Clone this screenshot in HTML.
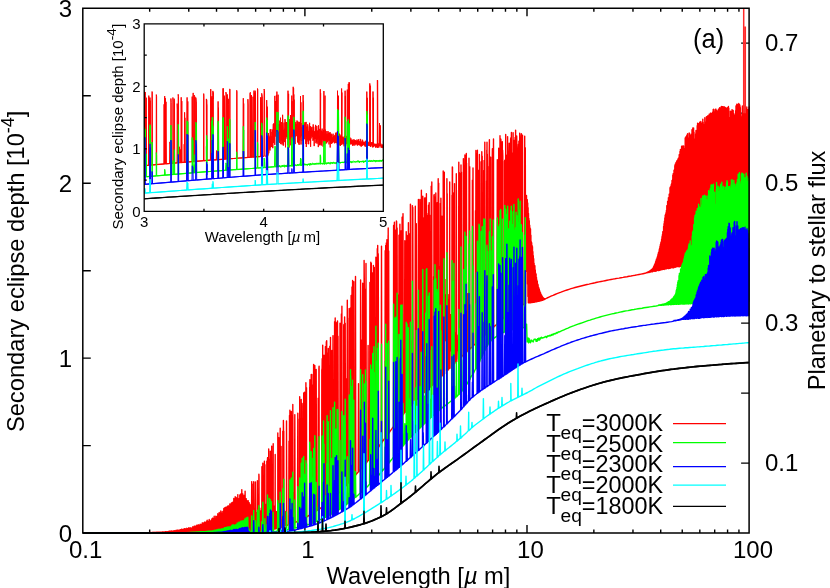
<!DOCTYPE html>
<html><head><meta charset="utf-8"><title>Secondary eclipse depth</title>
<style>html,body{margin:0;padding:0;background:#fff;}body{width:830px;height:588px;overflow:hidden;font-family:"Liberation Sans",sans-serif;}svg{display:block;}</style></head>
<body>
<svg width="830" height="588" viewBox="0 0 830 588" font-family="Liberation Sans, sans-serif" fill="#000" style="will-change:transform">
<rect width="830" height="588" fill="#fff"/>
<defs><clipPath id="cm"><rect x="82.8" y="8.25" width="666.9" height="525.45"/></clipPath><clipPath id="ci"><rect x="144.2" y="23.85" width="239.1" height="187.45"/></clipPath></defs>
<path d="M149.66 533.1v-3.6M149.66 8.25v3.6M188.77 533.1v-3.6M188.77 8.25v3.6M216.52 533.1v-3.6M216.52 8.25v3.6M238.04 533.1v-3.6M238.04 8.25v3.6M255.63 533.1v-3.6M255.63 8.25v3.6M270.50 533.1v-3.6M270.50 8.25v3.6M283.38 533.1v-3.6M283.38 8.25v3.6M294.74 533.1v-3.6M294.74 8.25v3.6M304.90 533.1v-8M304.90 8.25v8M371.76 533.1v-3.6M371.76 8.25v3.6M410.87 533.1v-3.6M410.87 8.25v3.6M438.62 533.1v-3.6M438.62 8.25v3.6M460.14 533.1v-3.6M460.14 8.25v3.6M477.73 533.1v-3.6M477.73 8.25v3.6M492.60 533.1v-3.6M492.60 8.25v3.6M505.48 533.1v-3.6M505.48 8.25v3.6M516.84 533.1v-3.6M516.84 8.25v3.6M527.00 533.1v-8M527.00 8.25v8M593.86 533.1v-3.6M593.86 8.25v3.6M632.97 533.1v-3.6M632.97 8.25v3.6M660.72 533.1v-3.6M660.72 8.25v3.6M682.24 533.1v-3.6M682.24 8.25v3.6M699.83 533.1v-3.6M699.83 8.25v3.6M714.70 533.1v-3.6M714.70 8.25v3.6M727.58 533.1v-3.6M727.58 8.25v3.6M738.94 533.1v-3.6M738.94 8.25v3.6M82.8 445.62h8M82.8 358.15h8M82.8 270.68h8M82.8 183.20h8M82.8 95.72h8M749.1 463.10h-8M749.1 393.10h-8M749.1 323.10h-8M749.1 253.10h-8M749.1 183.10h-8M749.1 113.10h-8M749.1 43.10h-8" fill="none" stroke="#000" stroke-width="1.4" stroke-linecap="butt"/>
<g clip-path="url(#cm)" fill="none" stroke-width="1.4" stroke-linejoin="round">
<path stroke="#ff0000" d="M82.8 533.1L125 533.1L125.5 533.1L126 533.1L126.5 533.1L127 533.1L127.5 533.1L128 533.1L128.5 533.1L129 533.1L129.5 533.1L130 533.1L130.5 533.1L131 533.1L131.5 533.1L132 533.1L132.5 533.1L133 533.1L133.5 533.1L134 533.1L134.5 533.1L135 533.1L135.5 533.1L136 533.1L136.5 533.1L137 533.1L137.5 533.1L138 533.1L138.5 533.1L139 533.1L139.5 533.1L140 533.1L140.5 533.1L141 533.1L141.5 533.1L142 533.1L142.5 533.1L143 533.1L143.5 533.1L144 533.1L144.5 533.1L145 533.1L145.5 533.1L146 533.1L146.5 533.1L147 533.1L147.5 533.1L148 533.1L148.5 533.1L149 533.1L149.2 532.7L149.5 533.1L149.8 532.6L150 533.1L150.2 532.5L150.5 533.1L150.8 532.6L151 533.1L151.2 532.6L151.5 533.1L151.8 532.6L152 533.1L152.2 532.4L152.5 533.1L152.8 532.4L153 533.1L153.2 532.4L153.5 533.1L153.8 532.4L154 533.1L154.2 532.5L154.5 533.1L154.8 532.4L155 533.1L155.2 532.4L155.5 533.1L155.8 532.4L156 533.1L156.2 532.4L156.5 533.1L156.8 532.3L157 533.1L157.2 532.3L157.5 533.1L157.8 532.3L158 533.1L158.2 532.3L158.5 533.1L158.8 532.3L159 533.1L159.2 532.1L159.5 533.1L159.8 532.2L160 533.1L160.2 532.3L160.5 533.1L160.8 532.2L161 533.1L161.2 532.2L161.5 533.1L161.8 532.1L162 533.1L162.2 532L162.5 533.1L162.8 531.9L163 533.1L163.2 532L163.5 533.1L163.8 532.1L164 533.1L164.2 531.9L164.5 533.1L164.8 532.1L165 533.1L165.2 531.8L165.5 533.1L165.8 531.8L166 533.1L166.2 531.8L166.5 533.1L166.8 531.9L167 533.1L167.2 531.8L167.5 533.1L167.8 531.8L168 533.1L168.2 531.5L168.5 533.1L168.8 531.6L169 533.1L169.2 531.3L169.5 533.1L169.8 531.3L170 533.1L170.2 531.2L170.5 533.1L170.8 531.1L171 533.1L171.2 531L171.5 533.1L171.8 531.1L172 533.1L172.2 531.1L172.5 533.1L172.8 531.1L173 533.1L173.2 530.9L173.5 533.1L173.8 531L174 533.1L174.2 531L174.5 533.1L174.8 530.8L175 533.1L175.2 530.5L175.5 533.1L175.8 530.9L176 533.1L176.2 530.9L176.5 533.1L176.8 530.1L177 533.1L177.2 530.2L177.5 533.1L177.8 530.2L178 533.1L178.2 530.4L178.5 533.1L178.8 530.3L179 533.1L179.2 530.2L179.5 533.1L179.8 530.4L180 533.1L180.2 529.8L180.5 533.1L180.8 530.1L181 533.1L181.2 529.4L181.5 533.1L181.8 529.2L182 533.1L182.2 529.5L182.5 533.1L182.8 529.7L183 533.1L183.2 529.2L183.5 533.1L183.8 529.7L184 533.1L184.2 528.9L184.5 533.1L184.8 528.8L185 533.1L185.2 528.6L185.5 533.1L185.8 529.5L186 533.1L186.2 528.9L186.5 533.1L186.8 528.3L187 533.1L187.2 528.7L187.5 533.1L187.8 528.6L188 533.1L188.2 528.6L188.5 533.1L188.8 527.8L189 533.1L189.2 527.9L189.5 533.1L189.8 528.1L190 533.1L190.2 528.4L190.5 533.1L190.8 527.7L191 533.1L191.2 528.1L191.5 533.1L191.8 528.2L192 533.1L192.2 528.1L192.5 533.1L192.8 526.7L193 533.1L193.2 527.1L193.5 533.1L193.8 527.1L194 533.1L194.2 526.3L194.5 533.1L194.8 526.1L195 533.1L195.2 526.2L195.5 533.1L195.8 527.3L196 533.1L196.2 525.9L196.5 533.1L196.8 525.1L197 533.1L197.2 526.3L197.5 533.1L197.8 526.5L198 533.1L198.2 524.7L198.5 533.1L198.8 525.7L199 533.1L199.2 525.1L199.5 533.1L199.8 526L200 533.1L200.2 524.2L200.5 533.1L200.8 524.9L201 533.1L201.2 524.6L201.5 533.1L201.8 524.7L202 533.1L202.2 522.9L202.5 533.1L202.8 522.9L203 533.1L203.2 524.1L203.5 533.1L203.8 523.8L204 533.1L204.2 522.5L204.5 533.1L204.8 521.9L205 533.1L205.2 523.8L205.5 533.1L205.8 524L206 533.1L206.2 522L206.5 533.1L206.8 520.9L207 533.1L207.2 520.2L207.5 533.1L207.8 522.1L208 533.1L208.2 521.6L208.5 533.1L208.8 521L209 533.1L209.2 519.4L209.5 533.1L209.8 520.3L210 533L210.2 521.3L210.5 533L210.8 521.1L211 533L211.2 520.8L211.5 533L211.8 519.1L212 533L212.2 518.5L212.5 533L212.8 518.1L213 533L213.2 518.5L213.5 533L213.8 519.6L214 533L214.2 516.3L214.5 533L214.8 519L215 533L215.2 518.5L215.5 533L215.8 516.2L216 533L216.2 518.9L216.5 533L216.8 516.7L217 533L217.2 516.3L217.5 532.9L217.8 513.7L218 532.9L218.2 517.6L218.5 532.9L218.8 514.8L219 532.9L219.2 512.4L219.5 532.9L219.8 515.2L220 532.9L220.2 512.9L220.5 532.9L220.8 510.9L221 532.9L221.2 511.8L221.5 532.9L221.8 514.6L222 532.9L222.2 513.8L222.5 532.8L222.8 511.4L223 532.8L223.2 514.4L223.5 532.8L223.8 508.5L224 532.8L224.2 511L224.5 532.8L224.8 507.8L225 532.8L225.2 512.4L225.5 532.8L225.8 507.2L226 532.8L226.2 508.9L226.5 532.7L226.8 510.5L227 532.7L227.2 506.5L227.5 532.7L227.8 507.4L228 532.7L228.2 505.8L228.5 532.7L228.8 507.7L229 532.7L229.2 506.8L229.5 532.7L229.8 504L230 532.7L230.2 504.6L230.5 532.6L230.8 506.4L231 532.6L231.2 503.1L231.5 532.6L231.8 502.8L232 532.6L232.2 506.4L232.5 532.6L232.8 502.3L233 532.6L233.2 506.8L233.5 532.5L233.8 498.4L234 532.5L234.2 499.1L234.5 532.5L234.8 500.2L235 532.5L235.2 496.8L235.5 532.5L235.8 503.3L236 532.5L236.2 497.4L236.5 532.4L236.8 500.9L237 532.4L237.2 498.7L237.5 532.4L237.8 494.6L238 532.4L238.2 500.8L238.5 532.4L238.8 499.6L239 532.3L239.2 498.4L239.5 532.3L239.8 494.9L240 532.3L240.2 496.3L240.5 532.3L240.8 493.9L241 532.3L241.2 496.4L241.5 532.2L241.8 489.6L242 532.2L242.2 498.7L242.5 532.2L242.8 494L243 532.2L243.2 498.4L243.5 532.2L243.8 495.9L244 532.1L244.2 495.5L244.5 532.1L244.8 499.9L244.8 532.1L245 532.1L245.1 491.2L245.2 501.1L245.4 532.1L245.5 532.1L245.8 503.8L246 532.1L246.2 498.6L246.5 532L246.8 500.5L247 532L247.2 503.6L247.5 532L247.8 506.6L248 532L248.2 500.6L248.5 531.9L248.8 504.8L249 531.9L249.2 502.8L249.5 531.9L249.8 504.3L250 531.9L250.2 504.7L250.5 531.9L250.8 509.1L250.9 531.8L251 531.8L251.2 508.1L251.2 506.7L251.4 531.8L251.5 531.8L251.5 531.8L251.7 481.6L251.8 506.5L251.9 531.8L252 531.8L252 531.8L252.2 483.9L252.2 509.1L252.5 531.8L252.5 531.8L252.8 508.7L253 531.7L253.2 509.5L253.4 531.7L253.5 531.7L253.7 481.8L253.8 511.5L254 531.7L254 531.7L254.2 509.8L254.5 531.6L254.8 513.9L254.9 531.6L255 531.6L255.1 531.6L255.2 511.9L255.2 511.2L255.4 482L255.5 531.6L255.5 531.6L255.7 531.6L255.8 513.2L256 531.6L256.2 513.5L256.5 531.5L256.8 512.4L257 531.5L257.1 531.5L257.2 514.1L257.4 480.7L257.5 531.5L257.7 531.5L257.8 514.3L258 531.5L258.2 512L258.5 531.4L258.6 531.4L258.7 531.4L258.8 510.8L258.9 474.3L259 531.4L259 475.6L259.2 531.4L259.2 510L259.3 531.4L259.5 531.4L259.8 508.1L260 531.4L260.2 512.5L260.5 531.3L260.8 511.3L261 531.3L261.2 510.8L261.5 531.2L261.6 531.2L261.8 506.1L261.9 466.7L262 531.2L262.2 531.2L262.2 509.9L262.5 531.2L262.5 531.1L262.6 531.1L262.8 507.8L262.8 463.3L262.9 463.3L263 531.1L263.1 531.1L263.2 531.1L263.2 507.9L263.5 531L263.8 508.4L264 531L264.1 530.9L264.2 506.9L264.4 461.3L264.5 530.9L264.6 530.9L264.7 530.9L264.8 504.8L264.9 464.7L265 530.9L265.2 530.9L265.2 508.3L265.5 530.8L265.8 508.3L266 530.7L266.2 504.3L266.5 530.6L266.5 530.6L266.8 507.4L266.8 461.3L267 530.6L267.1 530.6L267.2 530.5L267.2 506L267.3 530.5L267.3 530.5L267.5 530.4L267.5 458.5L267.5 530.5L267.6 492.8L267.6 457.6L267.8 506.8L267.8 457.7L267.8 530.5L267.9 530.5L267.9 530.5L268 530.4L268.1 530.4L268.2 505.9L268.4 530.3L268.5 530.3L268.7 449L268.8 503.1L269 530.3L269 530.2L269 530.1L269.2 504.2L269.3 459.3L269.3 530.1L269.5 530.1L269.6 530.1L269.6 459.7L269.8 507.2L269.9 530.1L270 530L270 529.9L270.2 508.8L270.3 451.1L270.5 529.8L270.5 529.9L270.6 529.9L270.7 529.8L270.8 503.8L270.8 501.7L271 529.8L271 529.7L271 455.2L271.1 529.8L271.2 509.4L271.3 529.7L271.3 452.9L271.3 529.8L271.4 529.6L271.5 529.7L271.6 520.9L271.6 529.7L271.7 446.1L271.8 506.4L271.9 529.7L272 529.6L272 529.6L272.2 505.7L272.5 529.5L272.8 509L272.9 529.3L273 529.3L273.2 443.8L273.2 507.8L273.5 529.3L273.5 529.2L273.8 506L274 529.1L274.2 507.4L274.5 529L274.8 510.2L274.9 528.8L275 528.9L275.2 454.4L275.2 507L275.5 528.8L275.5 528.7L275.8 511.3L276 528.6L276.2 513.2L276.5 528.5L276.8 511.7L277 528.3L277.2 511.5L277.5 528.2L277.5 528.1L277.8 514.6L277.8 433L278 528.1L278.1 528.1L278.2 516L278.5 527.9L278.6 527.8L278.8 513.3L278.9 437.6L279 527.8L279.2 527.8L279.2 514.5L279.5 527.6L279.8 515.5L279.9 527.4L280 527.5L280.2 428.3L280.2 516.2L280.5 527.3L280.5 527.4L280.8 518.5L280.8 527.2L281 527.2L281.1 446.5L281.2 518L281.4 527.2L281.5 527L281.8 520L282 526.9L282.2 520.8L282.5 526.7L282.5 526.6L282.8 521.6L282.8 431.1L283 526.6L283.1 526.5L283.1 526.6L283.2 526.4L283.2 521.9L283.4 420.5L283.5 427.8L283.5 526.3L283.5 526.4L283.7 526.5L283.8 522.7L283.8 526.4L283.8 431.2L284 526.3L284.1 526.3L284.2 523.8L284.5 526.1L284.8 525.1L285 526L285.4 525.7L285.5 525.8L285.7 511.5L286 525.7L286 525.6L286.2 525.5L286.5 525.5L286.5 420.9L286.8 525.5L287 525.3L287.5 525.2L288 525L288.7 524.7L289 441.1L289.2 524.5L289.3 524.7L289.5 415.5L289.6 524.4L289.8 524.5L289.9 410.1L290 524.3L290 524.4L290.2 524.4L290.3 421.7L290.3 524.2L290.3 524.2L290.6 524.3L290.6 491.8L290.6 420.7L290.9 524.2L290.9 524L290.9 524.2L290.9 523.9L291 523.9L291.2 449.3L291.2 421.9L291.3 411.5L291.5 524L291.5 523.9L291.6 523.9L291.8 523.6L291.8 523.6L292 523.7L292.1 415.6L292.1 417.7L292.4 523.6L292.4 523.6L292.5 523.4L292.8 404.4L293.1 523.4L293.3 523.1L293.6 501L293.6 523L293.9 523.1L293.9 492.4L294 522.9L294.2 523L294.5 522.6L294.8 414.6L295.1 522.6L296 522.1L297.5 521.3L297.8 413.3L298 521.3L298.1 521.3L299.1 520.6L299.4 520.5L299.4 419.1L299.4 520.5L299.7 406.6L299.7 520.6L299.7 396.8L300 520.5L300 520.3L300 520.5L300.4 520L300.7 421.4L300.9 519.7L301 520L301.2 399.5L301.5 519.7L301.8 519.3L301.9 519.3L302 519.4L302.1 403.5L302.2 406L302.4 519.3L302.5 519.3L302.9 518.8L303.2 462.2L303.2 518.6L303.4 518.5L303.5 518.8L303.5 518.4L303.5 473.2L303.7 393L303.8 403.4L303.8 518.6L304 518.5L304 518.3L304.1 518.4L304.3 518L304.5 517.9L304.6 392.2L304.8 394.4L304.9 518L305.1 517.9L305.6 517.3L305.9 382.7L306 517.1L306 517.3L306.2 517.3L306.2 517L306.3 505.3L306.5 387.8L306.6 517.1L306.8 517L308 516.1L309.4 515.2L309.5 515.1L309.6 515L309.7 387.3L309.8 388.7L309.9 379.7L310 515.2L310 515L310.1 515.1L310.2 514.7L310.2 515L310.5 442.7L310.8 514.7L310.9 514.3L311.2 374.5L311.5 514.3L311.6 513.8L311.8 513.7L311.9 374.4L312 513.8L312.1 513.5L312.1 388.2L312.2 513.8L312.4 389.2L312.4 513.7L312.6 513.2L312.7 513.5L312.8 513.1L312.9 384.9L313 513L313.1 475.6L313.2 513.2L313.3 512.8L313.3 496.1L313.4 513.1L313.4 512.7L313.6 364.5L313.6 513L313.7 364.7L313.9 512.8L314 512.5L314 512.7L314.1 512.3L314.4 383.3L314.5 512L314.5 512L314.7 512.3L314.8 511.8L314.8 367.6L314.8 365.5L315.1 379.3L315.1 512L315.1 512L315.4 511.8L315.9 511.1L316 511.2L316.2 369.5L316.5 511.1L317.9 509.8L318 509.9L318.2 398.1L318.2 509.6L318.5 509.8L318.5 437.4L318.6 509.3L318.8 509.2L318.8 509.6L318.9 368.8L319.1 366.1L319.2 509.3L319.4 509.2L320 508.6L321.5 507.4L321.7 507.2L321.8 369.8L321.8 507.2L321.9 507L322 368.6L322 507.2L322.1 507.4L322.1 367.4L322.2 358.6L322.3 507.2L322.4 506.7L322.4 507.2L322.5 507L322.7 345.3L322.7 506.5L323 506.7L323 489.7L323.2 506.2L323.3 506.5L323.5 366.6L323.7 505.8L323.8 506.2L324 505.8L324 355.2L324.3 505.8L325.1 504.8L325.4 346.6L325.7 504.8L326 504.2L326 504.4L326.3 341.8L326.4 503.9L326.6 504.2L326.6 503.7L326.7 340.8L326.8 503.6L326.8 503.5L326.9 360.8L327 503.9L327.1 354.3L327.1 352.9L327.2 503.7L327.4 503.6L327.4 503.5L328 502.9L328 502.6L328.3 348.4L328.6 502.6L329.5 501.4L329.8 346.1L330 501.2L330.1 501.4L330.2 500.8L330.2 500.8L330.5 337.4L330.5 341.2L330.8 500.8L330.8 500.8L331.6 499.6L331.7 499.5L331.9 350.5L332 499.5L332 351.7L332.2 499.6L332.3 499.5L332.7 498.7L333 335.6L333.3 498.7L333.7 497.7L334 497.7L334 482.6L334.3 497.7L334.3 497.1L334.6 321.6L334.9 496.6L334.9 497.1L335.1 496.5L335.2 317.9L335.4 374.9L335.5 496.6L335.5 496L335.7 496.5L335.8 322.1L336 495.9L336.1 496L336.3 495.3L336.3 495.3L336.6 335.5L336.6 339.9L336.8 494.8L336.9 495.3L336.9 495.3L337.1 494.6L337.1 322.7L337.2 494.4L337.4 322.8L337.4 494.8L337.5 321L337.7 494.6L337.7 493.9L337.8 494.4L338 493.9L338 336.2L338.3 493.9L339.7 491.9L340 491.9L340 323.1L340.3 491.9L341.1 490.5L341.4 313.9L341.6 490L341.7 490.5L341.9 306.2L342 489.9L342.2 490L343.4 488.1L343.6 487.9L343.7 325.9L343.9 324.4L344 488.1L344 487.8L344.2 487.9L344.3 487.2L344.6 316.9L344.9 487.2L344.9 486.5L345.2 323.2L345.5 486.5L345.5 485.8L345.8 432.3L346 485.6L346.1 485.8L346.2 485.1L346.5 378.7L346.8 485.1L347 484.2L347.3 300.2L347.6 484.2L348 483.5L348.7 482.3L348.9 482.1L349 318.1L349.1 481.9L349.2 308.5L349.3 482.3L349.4 441.6L349.5 482.1L349.7 481.9L350 481.3L350.2 480.8L350.4 480.5L350.5 308.7L350.5 480.4L350.5 480.3L350.7 309.9L350.8 480.8L350.8 480.1L350.8 480.1L350.8 307.4L350.8 386L351 480.5L351.1 427.8L351.1 295.4L351.1 479.7L351.1 480.4L351.1 480.3L351.4 480.1L351.4 480.1L351.4 479.4L351.4 307.9L351.7 305.5L351.7 479L351.7 479.7L351.9 478.9L352 479.1L352 479.4L352 286.9L352.2 436L352.3 479L352.3 478.4L352.5 478.9L352.6 280.4L352.9 478.4L352.9 477.7L353.1 477.4L353.2 477.3L353.2 343.7L353.4 307.9L353.5 320.2L353.5 477L353.5 477.7L353.7 477.4L353.8 477.3L353.8 281.6L354 476.8L354.1 477L355.2 475.1L355.5 276.4L355.8 475.1L356 474.6L358 472.3L358.2 471.8L358.5 383.8L358.8 471.8L360 470.1L360.3 469.4L360.6 280L360.9 469.4L361.5 468.1L361.8 339.9L362 467.9L362.1 468.1L362.2 467.2L362.4 467.1L362.5 314.1L362.7 283.2L362.8 467.2L363 467.1L363.8 465.4L364 465.5L364.1 465.1L364.1 260.5L364.4 290.8L364.4 465.4L364.7 465.1L365.2 463.7L365.5 289.1L365.7 463.1L365.8 463.7L366 463.1L366 263.5L366.3 463.1L367.8 460.6L368 460.7L368.1 345.5L368.4 460.6L369.6 458.2L369.9 282.5L370 458.1L370.2 458.2L370.4 457.2L370.5 457.1L370.6 457L370.7 278.7L370.8 262.3L370.9 456.6L370.9 263.6L371 456.5L371 457.2L371.1 457.1L371.2 354L371.2 457L371.3 263.2L371.5 456.6L371.6 456.5L372 455.6L372.4 454.7L372.4 454.6L372.7 272.6L372.7 274.4L373 454.7L373 454.6L373.1 453.8L373.4 265.4L373.5 453.2L373.6 453.1L373.7 453.8L373.8 362L373.9 268.6L374 453L374 452.5L374.1 453.2L374.2 453.1L374.3 267.5L374.6 452.5L375.6 450.5L375.9 257.3L376 450.3L376.2 450.5L376.2 449.6L376.5 433.5L376.6 449.1L376.8 449.6L376.9 327.2L377 448.6L377.2 449.1L377.3 248.6L377.4 448L377.6 448.6L377.7 245.5L377.9 447.4L378 447.6L378 448L378 447.2L378.2 253.8L378.3 265L378.5 447.4L378.6 447.2L380 445L381.2 442.9L381.5 246.1L381.8 442.9L382 442.2L384 439.5L384.9 437.8L385.2 250.6L385.4 437.2L385.5 437.8L385.7 245.4L386 436.8L386 437.2L386 436.4L386.3 242.9L386.3 435.9L386.6 435.6L386.6 436.4L386.6 244.6L386.8 435.3L386.9 239.8L386.9 435.9L387 435.1L387.1 246.6L387.2 435.6L387.3 335.4L387.4 435.3L387.6 435.1L387.8 434L387.9 433.9L388 434.1L388.1 235.5L388.1 433.6L388.2 228L388.4 434L388.4 329.5L388.4 433.1L388.5 433.9L388.7 433.6L388.7 250.9L389 433.1L390 431.4L392 428.7L393.3 426.6L393.4 426.4L393.5 426.3L393.6 225.5L393.7 239.5L393.8 350L393.9 426.6L394 426.1L394 426.4L394.1 426.3L394.1 425.5L394.4 222.3L394.7 425.5L394.8 424.6L395.1 265.1L395.3 424L395.3 423.9L395.4 424.6L395.5 423.7L395.6 230.1L395.6 423.6L395.6 242.1L395.8 232.3L395.9 424L395.9 243.2L395.9 423.9L396 423.4L396.1 423L396.1 423.7L396.2 422.8L396.2 423.6L396.3 422.7L396.4 220.9L396.5 346.4L396.6 221.5L396.7 423L396.8 422.1L396.8 422.8L396.9 422.7L397.1 228L397.4 422.1L397.4 421.2L397.7 295L398 420.8L398 421.2L398.7 419.6L399 235.1L399.3 419.6L399.5 418.6L399.6 418.4L399.8 243.6L399.9 224.3L400 418.3L400.1 418.6L400.1 417.8L400.2 418.4L400.4 234.4L400.5 417.3L400.7 417.8L400.7 417L400.8 231.3L401 230.9L401.1 417.3L401.3 417L401.8 415.7L402 415.8L402.1 217.1L402.4 415.7L402.7 414.6L403 213.6L403.3 414.6L404 413.4L404.5 412.4L404.8 240.7L405.1 412.4L405.9 410.7L406 411L406.2 231.6L406.5 410.7L406.7 409.8L407 235.4L407.3 409.8L408 408.7L408.1 408.2L408.4 222.7L408.7 408.2L409.2 407L409.5 234L409.8 407L410 406.5L410.1 406.1L410.2 406L410.4 204.3L410.5 405.6L410.5 204.4L410.7 406.1L410.8 373.9L410.8 406L411.1 405.6L411.9 404.1L412 404L412 404.3L412.1 403.9L412.2 340.6L412.3 363.9L412.4 205.6L412.5 403.5L412.5 404.1L412.6 404L412.7 403.9L412.8 207.4L413.1 403.5L414 402.3L415 400.9L415.3 206.2L415.6 400.9L416 400.3L416 399.9L416.3 223.6L416.6 399.9L418 398.3L418.1 397.9L418.4 199.4L418.7 397.9L419 397L419.3 304.8L419.5 396.6L419.6 396.5L419.6 397L419.8 242.2L419.9 199.5L420 396.4L420.1 396.6L420.2 396.5L420.9 395.3L421.1 395.1L421.2 221.3L421.4 190.3L421.5 395.3L421.7 395.1L422 394.5L422.5 393.8L422.8 196.2L422.9 393.4L423.1 393.8L423.2 217.6L423.5 393.4L424 392.7L424.3 392.2L424.3 392.2L424.6 313.7L424.6 197.9L424.9 392.2L424.9 392.2L425.4 391.2L425.7 197.8L426 391.2L426 390.9L426.1 390.5L426.4 193.7L426.4 390.2L426.5 390.2L426.7 390.5L426.7 216.1L426.8 213.5L427 390.2L427.1 390.2L427.4 389.3L427.7 215.8L428 389L428 389.3L428.2 388.6L428.5 205.3L428.8 388.6L428.9 388L429.2 202.8L429.4 387.6L429.5 388L429.7 215.3L430 387.6L430 387.2L430.4 386.6L430.7 246.4L430.9 386.2L431 386.6L431.2 186.3L431.5 386.2L431.5 385.6L431.8 181.9L432 385.4L432.1 385.6L433.3 384L433.6 276.6L433.6 383.7L433.9 384L433.9 383.4L433.9 195.5L434 383.6L434.2 194.4L434.2 383.7L434.5 383.4L434.7 382.6L434.8 382.6L435 198.9L435.1 197.2L435.3 382.6L435.4 382.6L435.5 381.9L435.6 381.8L435.8 193L435.9 206.5L436 381.7L436.1 381.9L436.2 381.8L436.8 380.7L436.8 380.7L436.9 380.6L437.1 302.5L437.1 208.4L437.2 202.8L437.4 380.7L437.4 380.7L437.5 380.6L437.8 379.7L437.9 379.7L438 379.8L438.1 207L438.2 178.8L438.2 379.3L438.4 379.2L438.4 379.7L438.4 379.1L438.5 379.7L438.5 186.8L438.7 203.9L438.7 183.2L438.8 379.3L439 379.2L439 348.5L439 379.1L439.2 378.4L439.3 364.1L439.5 266.8L439.6 322.6L439.8 378.4L439.9 351.4L440.1 377.5L440.2 293.4L440.4 203.5L440.5 336.5L440.6 377L440.7 377.5L440.8 292.2L440.9 198.2L441.1 327L441.2 377L441.4 292.5L441.7 326.3L441.7 375.9L442 269.3L442 216.1L442.3 337.4L442.3 375.9L442.6 285.8L442.9 345.4L442.9 374.7L443.2 272.8L443.2 170.9L443.5 326.6L443.5 374.7L443.6 374L443.8 290.7L443.8 373.8L443.9 373.8L443.9 182.7L444 373.7L444.1 342.3L444.1 199.2L444.2 196.9L444.2 374L444.3 172.1L444.4 278.2L444.4 373.8L444.5 373.8L444.6 373.7L444.7 344.5L445 279.4L445.3 340.8L445.6 294.8L445.9 330.3L446.2 296.1L446.5 330.4L446.6 371.1L446.8 298.5L446.9 370.8L446.9 370.8L446.9 178.7L447.1 334.7L447.2 281.1L447.2 193.8L447.2 371.1L447.4 289.9L447.5 370.8L447.5 370.8L447.7 335.6L448 369.7L448 294.5L448.3 310.1L448.3 348.7L448.6 369.7L448.6 299.4L448.9 348.1L449.2 306.8L449.4 368.3L449.5 347.8L449.7 181.9L449.8 315.6L450 368.3L450.1 339L450.4 314.4L450.7 350.7L451 315.9L451.3 344.6L451.6 316.2L451.7 366L451.9 348.6L452 195.3L452 365.7L452.2 322.8L452.2 365.5L452.2 365.5L452.3 366L452.3 167L452.5 344.3L452.5 169.7L452.5 167.2L452.6 365.7L452.8 325.3L452.8 365.5L452.8 365.5L453.1 349.1L453.4 325.8L453.6 364.1L453.7 342.1L453.9 192.8L454 326.8L454.2 363.5L454.2 364.1L454.3 345.4L454.5 183.6L454.6 332.2L454.8 363.5L454.9 349.8L455.2 333.7L455.5 351.1L455.8 332.8L456 361.7L456.1 351.1L456.1 361.6L456.3 173.7L456.4 334.1L456.4 189.9L456.6 361.7L456.7 347.1L456.7 361.6L457 335L457.3 350.5L457.6 341.5L457.9 350.2L458.2 342.5L458.5 359.3L458.5 351.8L458.5 359.3L458.8 162.2L458.8 342.1L458.8 287.7L458.9 358.9L459.1 359.3L459.1 354.9L459.1 359.3L459.2 172.4L459.2 358.6L459.4 345.5L459.5 358.9L459.5 276.5L459.7 353.6L459.7 358.1L459.8 358.6L460 173.5L460.3 358.1L460.7 357.2L460.9 357L461 164.9L461.2 356.8L461.2 279.2L461.3 357.2L461.5 172.2L461.5 357L461.8 356.8L462 356.2L463.1 354.9L463.3 354.7L463.4 158.6L463.6 174L463.7 354.9L463.9 354.7L464 354.4L464.3 353.8L464.6 231.3L464.6 353.5L464.9 353.3L464.9 353.8L464.9 155L465.2 175.7L465.2 353.5L465.5 353.3L465.8 352.4L466 352.5L466 352.2L466.1 165.8L466.2 352L466.3 153.4L466.4 352.4L466.5 163.1L466.6 352.2L466.8 352L467.3 351L467.6 293.8L467.9 351L468 350.6L468.7 349.7L468.7 349.7L468.9 349.5L469 164.2L469 158.3L469.2 349.3L469.2 169.7L469.3 349.7L469.3 349.1L469.3 349.7L469.4 349L469.5 169.9L469.5 349.5L469.6 197.5L469.7 166.7L469.8 349.3L469.9 349.1L470 348.8L470 349L472 346.9L472.1 346.5L472.4 180.3L472.7 346L472.7 346.5L473 168L473.3 346L474 345.1L475.2 343.7L475.5 210.7L475.6 343.3L475.8 343.7L475.9 150.5L476 343L476 343.2L476.1 342.8L476.2 343.3L476.3 162.2L476.4 159L476.6 342.4L476.6 343L476.7 342.3L476.7 342.8L476.9 153.4L476.9 342.1L477 158.6L477.1 342L477.2 342.4L477.2 313.3L477.3 342.3L477.3 341.7L477.4 150.3L477.5 342.1L477.6 176.3L477.7 342L477.9 341.7L478 341.1L478 341.4L478.3 170.7L478.6 341.1L478.7 340.4L479 170L479.1 340L479.3 340.4L479.4 154.4L479.7 340L480 339.5L480.8 338.5L481.1 161.7L481.4 338.5L481.5 337.8L481.8 151.7L481.9 337.5L482 337.7L482.1 337.8L482.2 156.2L482.5 337.5L483.4 336.1L483.5 336L483.7 170.5L483.8 335.7L483.8 335.7L483.8 170.8L484 335.8L484 336.1L484.1 167.7L484.1 160.5L484.1 336L484.4 335.7L484.4 335.7L484.5 335.1L484.8 142.1L485.1 335.1L486 334L486.3 333.4L486.5 333.2L486.6 181L486.7 333.1L486.8 333L486.8 150.2L486.9 333.4L487 142.3L487 332.8L487.1 332.7L487.1 160.6L487.1 333.2L487.3 333.1L487.3 154.3L487.3 332.5L487.4 185.2L487.4 333L487.6 332.8L487.6 166.5L487.7 332.7L487.9 332.5L488 332.1L488.8 331.1L489.1 330.9L489.1 165.4L489.4 139.7L489.4 331.1L489.7 330.9L489.8 330.2L489.9 330.1L490 330.3L490.1 157.2L490.2 163.5L490.3 329.7L490.4 330.2L490.4 329.7L490.5 330.1L490.6 164.8L490.7 157.1L490.9 329.7L491 329.7L492 328.2L492 328.5L492.1 328.1L492.2 328.1L492.3 155.7L492.4 148.8L492.5 266L492.6 328.2L492.7 328.1L492.8 328.1L493 327.3L493.1 327.3L493.2 327.1L493.3 149.1L493.4 160.1L493.5 139L493.6 327.3L493.7 327.3L493.8 327.1L494 326.7L496 324.9L497 323.7L497.3 159.7L497.4 323.3L497.6 323.7L497.7 307.8L498 323L498 323.3L498.4 322.4L498.7 148.2L499 322.4L499.1 321.7L499.4 160.7L499.7 321.2L499.7 321.7L500 135.7L500 321.2L500.3 321.2L500.3 320.6L500.3 320.6L500.4 320.5L500.6 320.4L500.6 145.8L500.6 138.7L500.6 320.3L500.6 320.3L500.7 163.3L500.8 320.1L500.9 144.8L500.9 320.6L500.9 320.6L500.9 152.2L500.9 139.5L500.9 320L501 320.5L501.1 208.9L501.2 320.4L501.2 320.3L501.2 320.3L501.2 241.3L501.4 320.1L501.5 320L502 319.1L502 319.3L502.3 141.6L502.3 318.7L502.5 318.6L502.6 319.1L502.6 150.3L502.8 155.7L502.9 318.7L503.1 318.6L504 317.5L504.2 317L504.5 316.8L504.5 161.4L504.8 160.3L504.8 317L505.1 316.8L505.4 316L505.7 134.5L505.7 315.7L506 316L506 315.8L506 154.6L506.3 315.7L506.6 315L506.9 155.4L507.2 315L507.3 314.5L507.6 136.6L507.9 314.5L508 314.1L508.7 313.4L508.9 313.2L509 154L509.2 143.1L509.2 313L509.3 313.4L509.4 312.9L509.5 313.2L509.5 154.4L509.7 312.7L509.7 158L509.8 313L510 145.4L510 312.7L510 312.9L510.3 312.3L510.3 312.7L510.4 312.2L510.5 312.1L510.6 138.8L510.6 312.1L510.6 312L510.6 312L510.7 161.5L510.8 151.3L510.9 312.3L510.9 249.4L510.9 137.6L510.9 152.2L511 312.2L511 311.7L511.1 311.7L511.1 312.1L511.2 312.1L511.2 312L511.2 312L511.3 311.6L511.3 150.9L511.4 132.4L511.6 274L511.6 311.7L511.7 311.7L511.9 311.6L512 311.3L512.1 311.1L512.3 310.9L512.4 153L512.5 310.7L512.6 175.4L512.7 311.1L512.8 310.6L512.8 155.1L512.9 310.5L512.9 310.9L513.1 132.6L513.1 310.7L513.2 144.2L513.4 310.6L513.5 310.5L513.6 310L513.7 310L513.9 144.8L514 310L514 144.2L514.2 310L514.2 309.6L514.2 309.6L514.3 310L514.5 141.1L514.5 140.1L514.8 309.2L514.8 309.6L514.8 309.6L515.1 137.4L515.3 309L515.4 309.2L515.6 130.1L515.8 308.6L515.9 309L516 308.7L516.1 148.8L516.2 308.4L516.4 308.2L516.4 308.6L516.5 308.2L516.5 151.1L516.7 136L516.8 141.7L516.8 308.4L517 308.2L517.1 308.2L517.9 307.4L518 307.5L518.1 307.2L518.2 147.9L518.4 144.2L518.5 307.4L518.6 306.9L518.7 307.2L518.9 141.3L519 306.7L519.2 306.9L519.3 152.9L519.4 306.5L519.6 306.4L519.6 306.7L519.7 133.1L519.8 306.3L519.9 134.7L520 306.5L520 306.3L520.1 136.7L520.2 306.4L520.4 306.3L521.1 305.5L521.2 305.5L521.4 133.8L521.5 147.5L521.7 305.5L521.8 305.5L522 305.2L522.1 305L522.2 304.9L522.4 141L522.5 135.1L522.7 305L522.8 304.9L524 304.2L524.4 303.9L524.7 136.1L525 303.9L525 303.6L525.3 147.8L525.6 303.6L525.6 303.5L525.9 234.5L526.1 195.6L526.3 246.9L526.5 195.4L526.7 259.2L526.9 200.3L527.1 271.6L527.3 199.7L527.5 284L527.7 203L527.9 296.4L528.1 207.8L528.3 302.8L528.5 213.5L528.7 302.8L528.9 218.4L529.1 302.8L529.3 220.7L529.5 302.8L529.7 225.3L529.9 302.7L530.1 228L530.3 302.7L530.5 228.9L530.7 302.7L530.9 235.2L531.1 302.6L531.3 241.7L531.5 302.6L531.7 242.7L531.9 302.5L532.1 245.5L532.3 302.5L532.5 246.8L532.7 302.4L532.9 251.6L533.1 302.4L533.3 255.6L533.5 302.3L533.7 258.7L533.9 302.2L534.1 263.3L534.3 302.2L534.5 265.9L534.7 302.1L534.9 265.7L535.1 302L535.3 269.9L535.5 301.9L535.7 273.1L535.9 301.9L536.1 274.1L536.3 301.8L536.5 277.4L536.7 301.7L536.9 280L537.1 301.6L537.3 281.2L537.5 301.5L537.7 284L537.9 301.4L538.1 284.8L538.3 301.3L538.5 287.1L538.7 301.2L538.9 287.9L539.1 301.2L539.3 289.2L539.5 301.1L539.7 290.8L539.9 301L540.1 291.9L540.3 300.9L540.5 292.6L540.7 300.8L540.9 294L541.1 300.7L541.3 294.7L541.5 300.5L541.7 295.2L541.9 300.4L542.1 296.3L542.3 300.3L542.5 296.8L542.7 300.2L542.9 297.4L543.1 300L543.3 297.7L543.5 299.9L543.7 298.3L543.9 299.7L544.1 298.5L544.3 299.5L544.5 298.7L544.7 299.3L544.9 298.7L545 299.1L547 298L549 297.1L551 296.2L553 295.4L555 294.5L557 293.7L559 292.9L561 292.2L563 291.4L565 290.7L567 290L569 289.3L571 288.7L573 288.1L575 287.5L577 287L579 286.5L581 286L583 285.5L585 285L587 284.5L589 284.1L591 283.6L593 283.2L595 282.8L597 282.3L599 281.9L601 281.5L603 281.1L605 280.7L607 280.3L609 279.9L611 279.5L613 279.1L615 278.8L617 278.4L619 278.1L621 277.7L623 277.4L625 277L627 276.7L629 276.3L631 276L633 275.6L635 275.3L637 274.9L639 274.5L641 274.1L643 273.7L645 273.3L647 272.5L647.2 272.3L647.4 272.7L647.6 272.1L647.8 272.6L648 271.9L648.2 272.3L648.4 271.7L648.6 272.3L648.8 271.5L649 272.5L649.2 271.3L649.4 272.2L649.6 271L649.8 271.9L650 270.8L650.2 272L650.4 270.4L650.6 271.7L650.8 270.2L651 272L651.2 269.8L651.4 271.4L651.6 269.6L651.8 271.5L652 269.2L652.2 271.7L652.4 268.8L652.6 271.8L652.8 268.5L653 271.2L653.2 267.6L653.4 271.3L653.6 266.8L653.8 270.9L654 266L654.2 271.1L654.4 265L654.6 271.2L654.8 264.1L655 271.3L655.2 263.2L655.4 271.2L655.6 261.7L655.8 270.5L656 260.7L656.2 270.5L656.4 259.1L656.6 271L656.8 258.7L657 270.3L657.2 257.1L657.4 270.4L657.6 255.9L657.8 270.3L658 254.2L658.2 270.5L658.4 252.7L658.6 270.1L658.8 252L659 270.6L659.2 249.7L659.4 270.2L659.6 248.1L659.8 270.3L660 246.3L660.2 269.9L660.4 244.5L660.6 270.1L660.8 242.6L661 269.6L661.2 241.7L661.4 269.8L661.6 239.1L661.8 269.5L662 236.6L662.2 269.6L662.4 234.8L662.6 269.6L662.8 231.8L663 269.2L663.2 231.6L663.4 269.1L663.6 226.5L663.8 269.3L664 223.8L664.2 269.5L664.4 221.1L664.6 269L664.8 217.9L665 268.7L665.2 215.1L665.4 268.6L665.6 214.2L665.8 269.1L666 212.7L666.2 268.9L666.4 210.4L666.6 268.6L666.8 205.8L667 268.6L667.2 207.6L667.4 268.4L667.6 201.5L667.8 268.1L668 204.6L668.2 268.6L668.4 197.7L668.6 268L668.8 197.4L669 268.5L669.2 194.1L669.4 268L669.6 194.6L669.8 268.4L670 187.8L670.2 268.2L670.4 186.9L670.6 268L670.8 188.6L671 267.9L671.2 184.8L671.4 267.6L671.6 183.6L671.8 267.5L672 180.5L672.2 267.6L672.4 184.2L672.6 267.8L672.8 175.1L673 267.7L673.2 173.6L673.4 267.5L673.6 180L673.8 267.7L674 170.1L674.2 267.4L674.4 171.4L674.6 267.1L674.8 165.6L675 266.8L675.2 164.3L675.4 267.2L675.6 165.8L675.8 267.1L676 162.4L676.2 266.7L676.4 163L676.6 266.7L676.8 161L677 266.6L677.2 160.5L677.4 266.6L677.6 164.1L677.8 266.5L678 159L678.2 266.6L678.4 158.3L678.6 266.3L678.8 167.1L679 266.7L679.2 154.6L679.4 266.7L679.6 155.6L679.8 266.4L680 151.4L680.2 266.3L680.4 149.4L680.6 266.3L680.8 155.1L681 265.9L681.2 151.6L681.4 265.9L681.6 146.3L681.8 266.4L682 147.2L682.2 265.9L682.4 146.8L682.6 265.7L682.8 145.9L683 265.9L683.2 151.7L683.4 266.1L683.6 145.9L683.8 265.7L684 153.8L684.2 265.6L684.4 149.1L684.6 265.7L684.8 150.7L685 265.5L685.2 138L685.4 265.6L685.6 138.4L685.8 265.7L686 136.8L686.2 265.5L686.4 142.4L686.6 265.8L686.8 135.2L687 265.6L687.2 135.2L687.4 265.2L687.6 133.6L687.8 265.6L688 138L688.2 265.5L688.4 145.5L688.6 265.4L688.8 143.3L689 265.4L689.2 133L689.4 265.2L689.6 133.4L689.8 264.8L690 138.1L690.2 265.3L690.4 136.1L690.6 264.9L690.8 137.3L691 265.2L691.2 134.4L691.4 265.1L691.6 137.3L691.8 264.9L692 129.7L692.2 265.1L692.4 135.2L692.6 264.4L692.8 128L693 264.6L693.2 139.4L693.4 264.5L693.6 127.9L693.8 264.4L694 132.2L694.2 264.6L694.4 139L694.6 264.7L694.8 140L695 264.4L695.2 140.5L695.4 264.4L695.6 134L695.8 264.6L696 130.4L696.2 264.3L696.4 130.8L696.6 264.5L696.8 135.9L697 264.1L697.2 125.7L697.4 264.3L697.6 123.3L697.8 263.8L698 133.5L698.2 263.8L698.4 123.8L698.6 263.8L698.8 124.5L699 263.7L699.2 131.6L699.4 263.6L699.6 122.2L699.8 264.2L700 128.2L700.2 264L700.4 133.1L700.6 263.6L700.8 121.4L701 263.5L701.2 123.5L701.4 263.7L701.6 124.5L701.8 263.3L702 124.2L702.2 263.4L702.4 122.4L702.6 263.6L702.8 119.1L703 263.4L703.2 122.4L703.4 263.2L703.6 124.6L703.8 263.4L704 130.7L704.2 263.2L704.4 129.4L704.6 263.2L704.8 117.8L705 263.4L705.2 123.1L705.4 262.9L705.6 123.8L705.8 263.1L706 121.9L706.2 263.3L706.4 116.7L706.6 263.4L706.8 123.8L707 263L707.2 123.2L707.4 262.8L707.6 116L707.8 263.1L708 115.6L708.2 262.7L708.4 119.2L708.6 263.1L708.8 117.1L709 262.7L709.2 114.1L709.4 262.8L709.6 122.9L709.8 262.5L710 117.8L710.2 262.7L710.4 113.2L710.6 263L710.8 113.1L711 262.9L711.2 122.3L711.4 262.9L711.6 120.9L711.8 262.6L712 113.2L712.2 262.7L712.4 114.9L712.6 262.7L712.8 112L713 262.3L713.2 109.5L713.4 262.4L713.6 109.3L713.8 262.5L714 111.6L714.2 262.6L714.4 118.4L714.6 262.2L714.8 119.3L715 262.1L715.2 109.6L715.4 261.8L715.6 109.3L715.8 262.4L716 109.2L716.2 262.2L716.4 119.6L716.6 261.9L716.8 110.9L717 262L717.2 111L717.4 261.9L717.6 111.5L717.8 261.9L718 113.1L718.2 262L718.4 109.2L718.6 262.1L718.8 109.2L719 261.7L719.2 116.7L719.4 261.7L719.6 107.6L719.8 262L720 117.3L720.2 261.7L720.4 114.9L720.6 261.6L720.8 107.8L721 261.5L721.2 106.6L721.4 261.9L721.6 106.5L721.8 261.6L722 106.9L722.2 261.3L722.4 106.7L722.6 261.7L722.8 106.7L723 261.5L723.2 113.5L723.4 261.3L723.6 109.4L723.8 261.2L724 106.8L724.2 261.2L724.4 113L724.6 261.6L724.8 107.3L725 261.6L725.2 107.4L725.4 260.9L725.6 110.3L725.8 261.4L726 108.1L726.2 261.3L726.4 108.8L726.6 261.2L726.8 108.6L727 261.3L727.2 107.8L727.4 261.1L727.6 110.2L727.8 261L728 118.3L728.2 260.9L728.4 106.5L728.6 261.3L728.8 108.1L729 261L729.2 119.9L729.4 261L729.6 117.9L729.8 260.6L730 117.5L730.2 260.9L730.4 111.1L730.6 260.6L730.8 122.6L731 260.9L731.2 111.7L731.4 260.7L731.6 111.4L731.8 261L732 109.6L732.2 260.8L732.4 113.3L732.6 260.4L732.8 110.5L733 260.6L733.2 110.5L733.4 260.5L733.6 120.8L733.8 260.4L734 113.9L734.2 260.4L734.4 118.5L734.6 260.5L734.8 115.9L735 260.6L735.2 118.8L735.4 260.4L735.6 110.8L735.8 260.4L736 105.9L736.2 260.4L736.4 105.4L736.6 260.2L736.8 104.1L737 260.5L737.2 108.2L737.4 260.2L737.6 104.4L737.8 260.7L738 114.4L738.2 260.7L738.4 104.2L738.6 260.2L738.8 103.5L739 260.6L739.2 109.5L739.4 260.2L739.6 104.6L739.8 260.5L740 105.7L740.2 260.5L740.4 107.6L740.6 260.1L740.8 118.4L741 260.3L741.2 117L741.4 260.5L741.6 116.7L741.8 260.5L742 114.4L742.2 260L742.4 106L742.6 260.3L742.8 120.1L743 260.1L743.2 113.4L743.4 260.3L743.6 109.3L743.8 260L744 105.6L744.2 260L744.4 112.1L744.6 260.1L744.8 118.9L745 259.8L745.2 115.6L745.4 260.2L745.6 111.4L745.8 259.9L746 112.7L746.2 259.6L746.4 108.1L746.6 260.1L746.8 106.9L747 260.3L747.2 110L747.4 260.2L747.6 109.6L747.8 260.1L748 118.7L748.2 259.6L748.4 116.1L748.6 260.2L748.8 109.1L749 259.8L749.2 107L749.1 260.2"/>
<path stroke="#00ff00" d="M82.8 533.1L180 533.1L180.5 533.1L181 533.1L181.5 533.1L182 533.1L182.5 533.1L183 533.1L183.5 533.1L184 533.1L184.5 533.1L185 533.1L185.5 533.1L186 533.1L186.5 533.1L187 533.1L187.5 533.1L187.8 532.6L188 533.1L188.2 532.6L188.5 533.1L188.8 532.5L189 533.1L189.2 532.6L189.5 533.1L189.8 532.5L190 533.1L190.2 532.5L190.5 533.1L190.8 532.4L191 533.1L191.2 532.5L191.5 533.1L191.8 532.3L192 533.1L192.2 532.3L192.5 533.1L192.8 532.3L193 533.1L193.2 532.2L193.5 533.1L193.8 532.2L194 533.1L194.2 532.3L194.5 533.1L194.8 532.2L195 533.1L195.2 532.1L195.5 533.1L195.8 532.2L196 533.1L196.2 532L196.5 533.1L196.8 532.1L197 533.1L197.2 531.9L197.5 533.1L197.8 532.1L198 533.1L198.2 532.1L198.5 533.1L198.8 532L199 533.1L199.2 531.9L199.5 533.1L199.8 532L200 533.1L200.2 531.9L200.5 533.1L200.8 531.8L201 533.1L201.2 531.7L201.5 533.1L201.8 531.6L202 533.1L202.2 531.6L202.5 533.1L202.8 531.6L203 533.1L203.2 531.7L203.5 533.1L203.8 531.7L204 533.1L204.2 531.7L204.5 533.1L204.8 531.7L205 533.1L205.2 531.4L205.5 533.1L205.8 531.6L206 533.1L206.2 531.4L206.5 533.1L206.8 531.5L207 533.1L207.2 531.3L207.5 533.1L207.8 531.4L208 533.1L208.2 531.2L208.5 533.1L208.8 531.2L209 533.1L209.2 531.3L209.5 533.1L209.8 531.1L210 533.1L210.2 531.3L210.5 533.1L210.8 531.3L211 533.1L211.2 531.3L211.5 533.1L211.8 531.2L212 533.1L212.2 530.9L212.5 533.1L212.8 531L213 533.1L213.2 531.2L213.5 533.1L213.8 530.9L214 533.1L214.2 530.3L214.5 533.1L214.8 530.6L215 533.1L215.2 530.3L215.5 533.1L215.8 530.5L216 533.1L216.2 530.4L216.5 533.1L216.8 529.8L217 533.1L217.2 530.4L217.5 533.1L217.8 529.7L218 533.1L218.2 529.3L218.5 533.1L218.8 529.6L219 533.1L219.2 529.8L219.5 533.1L219.8 529.2L220 533.1L220.2 529.8L220.5 533.1L220.8 529.6L221 533.1L221.2 529L221.5 533.1L221.8 529.3L222 533.1L222.2 528.7L222.5 533.1L222.8 529.3L223 533.1L223.2 529L223.5 533.1L223.8 529L224 533.1L224.2 528L224.5 533.1L224.8 527.8L225 533.1L225.2 527.8L225.5 533.1L225.8 527.6L226 533.1L226.2 527.4L226.5 533.1L226.8 528.4L227 533.1L227.2 527L227.5 533.1L227.8 528.2L228 533.1L228.2 527.3L228.5 533.1L228.8 526.9L229 533L229.2 526.9L229.5 533L229.8 526.9L230 533L230.2 527.5L230.5 533L230.8 527.2L231 533L231.2 526.2L231.5 533L231.8 525.5L232 533L232.2 525.1L232.5 533L232.8 525L233 533L233.2 524.7L233.5 533L233.8 525.8L234 533L234.2 526.1L234.5 533L234.8 525.2L235 533L235.2 524.8L235.5 532.9L235.8 525.2L236 532.9L236.2 525L236.5 532.9L236.8 524.5L237 532.9L237.2 522.9L237.5 532.9L237.8 523.6L238 532.9L238.2 524.3L238.5 532.9L238.8 522.2L239 532.9L239.2 523.5L239.5 532.9L239.8 523L240 532.8L240.2 521.8L240.5 532.8L240.8 521.1L241 532.8L241.2 522.9L241.5 532.8L241.8 522.9L242 532.8L242.2 520.6L242.5 532.8L242.8 522.5L243 532.8L243.2 521.1L243.5 532.8L243.8 520.8L244 532.7L244.2 520.4L244.5 532.7L244.8 518.9L245 532.7L245.2 519.2L245.5 532.7L245.8 520.8L246 532.7L246.2 517.7L246.5 532.7L246.8 518.3L247 532.7L247.2 518.5L247.5 532.6L247.8 517.2L248 532.6L248.2 532.6L248.2 527.5L250.2 532.5L251.4 532.5L251.7 516L251.9 532.5L252 532.5L252.2 532.5L252.2 530.3L252.5 532.5L253.4 532.4L253.7 510.5L254 532.4L254.2 532.4L255.1 532.4L255.4 520.8L255.7 532.4L256.2 532.3L257.1 532.3L257.4 510.3L257.7 532.3L258.2 532.2L258.6 532.2L258.7 532.2L258.9 505.6L259 508.1L259.2 532.2L259.3 532.2L260.2 532.2L261.6 532.1L261.9 521.6L262.2 532.1L262.2 532.1L262.5 532L262.6 532L262.8 504.6L262.9 502.2L263.1 532L263.2 532L264.1 532L264.2 532L264.4 525.3L264.6 531.9L264.7 532L264.9 518.8L265.2 531.9L266.2 531.9L266.5 531.9L266.8 524.7L267.1 531.9L267.2 531.8L267.3 531.8L267.5 531.8L267.5 494.9L267.6 500L267.8 509.9L267.8 531.8L267.9 531.8L268.1 531.8L268.2 531.8L268.4 531.8L268.7 522.6L269 531.8L269 531.7L269.3 498.5L269.3 531.7L269.6 531.7L269.6 499.6L269.9 531.7L270 531.7L270.2 531.7L270.3 499.4L270.6 531.7L270.7 531.6L271 531.6L271 509.6L271.3 501.6L271.3 531.6L271.4 531.6L271.6 531.6L271.7 527.8L272 531.6L272.2 531.6L272.9 531.5L273.2 512.1L273.5 531.5L274.2 531.4L276.2 531.2L277.5 531L277.8 500.4L278.1 531L278.2 531L278.6 530.9L278.9 504L279.2 530.9L279.9 530.7L280.2 530.7L280.2 492.3L280.5 530.7L282.2 530.4L282.5 530.3L282.8 488.7L283.1 530.3L283.1 530.3L283.2 530.3L283.4 502.9L283.5 492.6L283.5 530.2L283.7 530.3L283.8 530.3L283.8 479.2L284.1 530.2L284.2 530.1L286.2 529.8L286.2 529.7L286.5 512L286.8 529.7L288.2 529.4L288.7 529.3L289 524.4L289.2 529.2L289.3 529.3L289.5 501.2L289.6 529.1L289.8 529.2L289.9 479.9L290 529L290.2 529.1L290.2 529.1L290.3 496.1L290.3 529L290.6 529L290.6 482.7L290.9 529L290.9 528.9L291 528.8L291.2 504.2L291.3 478L291.5 528.9L291.6 528.8L291.8 528.7L291.8 528.7L292.1 485.9L292.1 513.7L292.2 528.7L292.4 528.7L292.4 528.7L292.5 528.5L292.8 472.3L293.1 528.5L294.2 528.2L294.5 528.1L294.8 499.9L295.1 528.1L296.2 527.8L297.5 527.5L297.8 486.8L298.1 527.5L298.2 527.4L299.1 527.1L299.4 527.1L299.4 515.4L299.4 527L299.7 477.9L299.7 527.1L299.7 509.7L300 527.1L300 527L300.2 526.9L300.4 526.8L300.7 515.7L300.9 526.7L301 526.8L301.2 463.3L301.5 526.7L301.8 526.5L301.9 526.4L302.1 463.1L302.2 458.2L302.2 526.4L302.4 526.5L302.5 526.4L303.4 526L303.5 526L303.7 456.5L303.8 512.2L304 526L304.1 526L304.2 525.9L304.3 525.8L304.5 525.7L304.6 474.5L304.8 481.4L304.9 525.8L305.1 525.7L305.6 525.4L305.9 460.7L306.2 525.4L306.2 525.2L306.2 525.3L306.5 463.7L306.8 525.2L308.2 524.6L309.4 524.1L309.5 524.1L309.6 524L309.7 442.3L309.8 447.7L309.9 497.9L310 524.1L310.1 524.1L310.2 524L310.2 523.9L310.9 523.6L311.2 451.6L311.5 523.6L311.6 523.3L311.8 523.2L311.9 482.8L312.1 523.1L312.1 478.5L312.2 523.2L312.2 523.3L312.4 483.3L312.4 523.2L312.6 522.9L312.7 523.1L312.9 458.1L313.2 522.9L313.3 522.6L313.4 522.6L313.6 456.2L313.7 448.5L313.9 522.6L314 522.6L314.1 522.3L314.2 522.4L314.4 486.9L314.5 522.1L314.5 522.1L314.7 522.3L314.8 522L314.8 442.1L314.8 435.8L315.1 501.9L315.1 522.1L315.1 522.1L315.4 522L315.9 521.6L316.2 482.5L316.2 521.5L316.5 521.6L317.9 520.7L318.2 520.7L318.2 506.9L318.5 520.7L318.6 520.3L318.8 520.3L318.9 455.8L319.1 436.7L319.2 520.3L319.4 520.3L320.2 519.7L321.5 519L321.7 518.9L321.8 450.6L321.8 518.9L321.9 518.8L322 504L322.1 519L322.1 435.9L322.2 518.8L322.2 474.2L322.3 518.9L322.4 518.6L322.4 518.9L322.5 518.8L322.7 463.7L323 518.6L323.2 518.2L323.5 421L323.7 517.9L323.8 518.2L324 444.3L324.2 517.8L324.3 517.9L325.1 517.2L325.4 495.9L325.7 517.2L326 516.8L326.2 516.8L326.3 484.3L326.4 516.6L326.6 516.8L326.6 516.5L326.7 463.5L326.8 516.4L326.8 516.3L326.9 470.4L327 516.6L327.1 474.8L327.1 415.6L327.2 516.5L327.4 516.4L327.4 516.3L328 515.7L328.2 515.8L328.3 421.7L328.6 515.7L329.5 514.9L329.8 486.4L330.1 514.9L330.2 514.7L330.2 514.5L330.2 514.5L330.5 410.7L330.5 429.4L330.8 514.5L330.8 514.5L331.6 513.8L331.7 513.7L331.9 458.5L332 496.9L332.2 513.8L332.2 513.6L332.3 513.7L332.7 513.2L333 407.6L333.3 513.2L334.2 512.5L334.3 512.3L334.6 402.2L334.9 512L334.9 512.3L335.1 511.9L335.2 428.9L335.4 504.5L335.5 512L335.5 511.6L335.7 511.9L335.8 430.8L336.1 511.6L336.2 511.4L336.3 511.2L336.3 511.2L336.6 428.9L336.6 487.3L336.8 510.9L336.9 511.2L336.9 511.2L337.1 510.7L337.1 409.5L337.2 510.6L337.4 454.8L337.4 510.9L337.5 461.1L337.7 510.7L337.7 510.3L337.8 510.6L338 409.7L338.2 510.2L338.3 510.3L339.7 509.1L340 440.4L340.2 509L340.3 509.1L341.1 508.2L341.4 483.9L341.6 507.8L341.7 508.2L341.9 411.4L342.2 507.6L342.2 507.8L343.4 506.6L343.6 506.4L343.7 415.7L343.9 473.5L344 506.6L344.2 506.2L344.2 506.4L344.3 506L344.6 426.7L344.9 506L344.9 505.5L345.2 399.1L345.5 505.5L346.2 504.8L347 503.9L347.3 456.8L347.6 503.9L348.2 503.2L348.7 502.6L348.9 502.4L349 485.9L349.2 395L349.3 502.6L349.5 502.4L350.2 501.5L350.2 501.7L350.4 501.2L350.5 369.6L350.5 501.2L350.7 375.7L350.8 501.5L350.8 501L350.8 437.4L351 501.2L351.1 386.1L351.1 500.7L351.1 501.2L351.4 501L351.4 500.4L351.4 409.9L351.7 443.8L351.7 500.2L351.7 500.7L352 500.4L352 465.6L352.2 500L352.3 500.2L352.3 499.7L352.6 380.1L352.9 499.7L352.9 499.2L353.1 499L353.2 498.9L353.2 486L353.4 476.1L353.5 481L353.5 498.7L353.5 499.2L353.7 499L353.8 498.9L353.8 400.2L354.1 498.7L354.2 498.4L355.2 497.3L355.5 471.6L355.8 497.3L356.2 496.7L358.2 494.9L360.2 493.1L360.3 492.8L360.6 369.7L360.9 492.8L362.2 491.3L362.2 491L362.4 490.9L362.5 476.9L362.7 374.7L362.8 491L363 490.9L363.8 489.6L364.1 489.4L364.1 409.2L364.2 489.5L364.4 383.9L364.4 489.6L364.7 489.4L365.2 488.3L365.5 370L365.7 487.8L365.8 488.3L366 381.3L366.2 487.7L366.3 487.8L368.2 485.8L369.6 484.2L369.9 439.4L370.2 483.9L370.2 484.2L370.4 483.4L370.5 483.3L370.6 483.3L370.7 364.9L370.8 444.4L370.9 392.8L371 482.9L371 483.4L371.1 483.3L371.2 483.3L371.3 369.5L371.6 482.9L372.2 482L372.4 481.5L372.4 481.5L372.7 353.5L372.7 378.6L373 481.5L373 481.5L373.1 480.8L373.4 446.4L373.6 480.2L373.7 480.8L373.9 346.6L374 479.8L374.2 479.9L374.2 480.2L374.3 372.5L374.6 479.8L375.6 478.2L375.9 326.1L376.2 478.2L376.2 477.8L377 476.6L377.3 360.9L377.4 476.1L377.6 476.6L377.7 348.2L377.9 475.7L378 476.1L378 475.5L378.2 364.9L378.2 475.6L378.3 343.2L378.5 475.7L378.6 475.5L380.2 473.4L381.2 471.8L381.5 344.2L381.8 471.8L382.2 471L384.2 468.7L384.9 467.4L385.2 361.3L385.4 466.8L385.5 467.4L385.7 324.3L386 466.8L386 466.1L386.2 466.2L386.3 414L386.3 465.7L386.6 465.4L386.6 466.1L386.6 441.6L386.8 465.1L386.9 438.3L386.9 465.7L387.1 343.5L387.2 465.4L387.4 465.1L387.8 463.9L387.9 463.8L388.1 389.5L388.2 418.2L388.2 463.8L388.4 463.9L388.4 463.2L388.5 463.8L388.7 341.1L389 463.2L390.2 461.3L392.2 458.9L393.3 457.2L393.4 457L393.6 304.1L393.7 433.4L393.9 457.2L394 457L394.1 456.1L394.2 456.4L394.4 318.1L394.7 456.1L394.8 455.3L395.1 441L395.3 454.7L395.3 454.6L395.4 455.3L395.5 454.5L395.6 336.3L395.6 454.3L395.6 399.9L395.8 317.2L395.9 454.7L395.9 405.8L395.9 454.6L396.1 453.8L396.1 454.5L396.2 454.3L396.2 453.9L396.3 453.5L396.4 364.8L396.6 403.3L396.7 453.8L396.8 452.9L396.9 453.5L397.1 293.2L397.4 452.9L398.2 451.5L398.7 450.5L399 334.4L399.3 450.5L399.5 449.6L399.6 449.4L399.8 354.7L399.9 343.6L400.1 449.6L400.1 448.9L400.2 449.1L400.2 449.4L400.4 320.1L400.5 448.4L400.7 448.9L400.7 448.1L400.8 305.3L401 376.5L401.1 448.4L401.3 448.1L401.8 446.8L402.1 304.9L402.2 446.7L402.4 446.8L402.7 445.8L403 403.5L403.3 445.8L404.2 444.3L404.5 443.7L404.8 423.7L405.1 443.7L405.9 442L406.2 442.1L406.2 322.2L406.5 442L406.7 441.2L407 323.9L407.3 441.2L408.1 439.6L408.2 439.9L408.4 327.7L408.7 439.6L409.2 438.5L409.5 399.1L409.8 438.5L410.1 437.5L410.2 437.4L410.2 437.7L410.4 364.9L410.5 322.3L410.7 437.5L410.8 437.4L412.1 435.4L412.2 435.6L412.4 281.1L412.5 435.1L412.7 435.4L412.8 320.5L413.1 435.1L414.2 433.6L415 432.5L415.3 388L415.6 432.5L416 431.5L416.2 431.6L416.3 330.4L416.6 431.5L418.1 429.5L418.2 429.6L418.4 290.2L418.7 429.5L419.5 428.1L419.6 427.9L419.8 415.8L419.9 386.7L420.1 428.1L420.2 427.7L420.2 427.9L420.9 426.7L421.1 426.5L421.2 352.2L421.4 365.3L421.5 426.7L421.7 426.5L422.2 425.7L422.5 425.2L422.8 269.4L422.9 424.8L423.1 425.2L423.2 332.1L423.5 424.8L424.2 423.8L424.3 423.5L424.6 396.3L424.9 423.5L425.4 422.5L425.7 312.9L426 422.5L426.1 421.8L426.2 421.9L426.4 269.1L426.4 421.5L426.5 421.4L426.7 421.8L426.7 283L426.8 268.6L427 421.5L427.1 421.4L427.4 420.5L427.7 381.2L428 420.5L428.2 419.8L428.2 420.1L428.5 296.1L428.8 419.8L428.9 419.2L429.2 293L429.4 418.7L429.5 419.2L429.7 350.3L430 418.7L430.2 418.2L430.9 417.3L431.2 399.1L431.5 417.3L431.5 416.8L431.8 346.7L432.1 416.8L432.2 416.4L433.6 414.9L433.9 414.6L433.9 338.4L434.2 280.1L434.2 414.6L434.2 414.9L434.5 414.6L434.7 413.9L434.8 413.8L435 264.6L435.1 298.1L435.3 413.9L435.4 413.8L435.5 413.2L435.6 413.1L435.8 278.6L435.9 284.2L436.1 413.2L436.2 412.8L436.2 413.1L436.8 412L436.9 411.9L437.1 289.4L437.2 306L437.4 412L437.5 411.9L437.8 411.2L437.9 411.1L438.1 301L438.2 388.2L438.2 411.1L438.2 410.8L438.4 410.7L438.4 411.2L438.4 410.6L438.5 411.1L438.5 292.1L438.7 302.5L438.7 270.3L438.8 410.8L439 410.7L439 410.6L440.1 409.2L440.2 409.4L440.4 305.1L440.6 408.8L440.7 409.2L440.9 330.7L441.2 408.8L442.2 407.8L443.6 406.4L443.9 258.7L444.2 406.2L444.2 406.4L446.2 404.7L446.6 404.2L446.9 252.8L447.2 404.2L448.2 403.3L450.2 401.8L451.7 400.4L452 260.7L452 400.2L452.2 400.3L452.2 400L452.3 400.4L452.3 304.6L452.5 281.3L452.6 400.2L452.8 400L453.6 398.9L453.9 263.4L454.2 398.4L454.2 398.6L454.2 398.9L454.5 385.9L454.8 398.4L456 396.8L456.2 396.9L456.3 362.2L456.6 396.8L458.2 395L458.5 394.4L458.8 309.4L458.9 394L459.1 394.4L459.2 328.7L459.5 394L459.7 393.1L460 377.2L460.2 392.9L460.3 393.1L460.7 392L461 246.9L461.2 391.5L461.3 392L461.5 359.9L461.8 391.5L462.2 390.5L463.1 388.9L463.3 388.7L463.4 330.2L463.6 269.6L463.7 388.9L463.9 388.7L464.2 387.8L464.6 386.8L464.9 386.4L464.9 232.1L465.2 272.5L465.2 386.8L465.5 386.4L465.8 385.1L466 384.7L466.1 236.5L466.2 384.9L466.2 384.4L466.3 266.5L466.4 385.1L466.5 282.5L466.6 384.7L466.8 384.4L468.2 381.7L468.7 380.4L468.7 380.4L469 267.8L469 243.9L469.2 379.7L469.3 380.4L469.3 380.4L469.5 231L469.8 379.7L470.2 378.5L472.1 374.7L472.2 375.1L472.4 226.4L472.7 373.7L472.7 374.7L473 265.7L473.3 373.7L474.2 371.7L475.6 368.8L475.9 303.7L476 368.1L476.1 367.9L476.2 368.8L476.2 368.3L476.3 284.1L476.4 272.6L476.6 367L476.6 368.1L476.7 366.7L476.7 367.9L476.9 288.9L477 284.7L477.1 366L477.2 367L477.3 366.7L477.3 365.5L477.4 241.1L477.6 250L477.7 366L477.9 365.5L478 364.2L478.2 364.3L478.3 251.2L478.6 364.2L478.7 362.5L479 224.2L479.1 361.7L479.3 362.5L479.4 225.2L479.7 361.7L480.2 360L480.8 358.1L481.1 231.5L481.4 358.1L481.5 356.4L481.8 305.3L481.9 355.8L482.1 356.4L482.2 226.8L482.2 355.7L482.5 355.8L483.5 352.2L483.8 351.6L483.8 351.6L483.8 218.9L484.1 224.9L484.1 253.6L484.1 352.2L484.2 351.4L484.4 351.6L484.4 351.6L484.5 350.2L484.8 219.2L485.1 350.2L486.2 347.4L486.5 346.3L486.7 346L486.8 345.8L486.8 248.3L487 245.3L487 345.5L487.1 248.3L487.1 346.3L487.3 346L487.3 294.9L487.3 345L487.4 345.8L487.6 345.5L487.6 251.4L487.9 345L488.2 344L488.8 342.8L489.1 342.4L489.1 326.3L489.4 232L489.4 342.8L489.7 342.4L489.8 341.6L489.9 341.4L490.1 303.6L490.2 341.4L490.2 219L490.3 341L490.4 341.6L490.4 340.9L490.5 341.4L490.6 277.9L490.7 250.6L490.9 341L491 340.9L492 339.6L492.1 339.4L492.2 339.6L492.3 236.8L492.4 266.5L492.6 339.6L492.7 339.4L493 338.7L493.2 338.6L493.3 219.9L493.5 309.4L493.6 338.7L493.8 338.6L494.2 338.1L496.2 336.6L497 335.9L497.3 218L497.6 335.9L498.2 335.3L498.4 335L498.7 226.6L499 335L499.1 334.5L499.4 224.4L499.7 334.2L499.7 334.5L500 210.8L500.2 334.1L500.3 334.2L500.3 333.9L500.3 333.9L500.4 333.8L500.6 333.7L500.6 237.2L500.6 250.2L500.6 333.7L500.6 333.7L500.7 209.5L500.9 223.4L500.9 333.9L500.9 333.9L500.9 231.2L500.9 229.5L501 333.8L501.2 333.7L501.2 333.7L501.2 333.7L502 333L502.2 333L502.3 263.2L502.3 332.8L502.5 332.7L502.6 333L502.6 219.2L502.8 264.8L502.9 332.8L503.1 332.7L504.2 332.1L504.2 332L504.5 331.9L504.5 261.2L504.8 205.5L504.8 332L505.1 331.9L505.4 331.5L505.7 209.3L505.7 331.4L506 331.5L506 217.1L506.2 331.3L506.3 331.4L506.6 331.1L506.9 214.5L507.2 331.1L507.3 330.8L507.6 206.3L507.9 330.8L508.2 330.6L508.7 330.4L508.9 330.4L509 228.7L509.2 233.6L509.2 330.3L509.3 330.4L509.4 330.2L509.5 330.4L509.5 307L509.7 330.2L509.7 221.3L509.8 330.3L510 307.1L510 330.2L510.2 330.1L510.3 330L510.3 330.2L510.4 330L510.5 330L510.6 227.2L510.6 329.9L510.6 329.9L510.7 312L510.8 210.5L510.9 330L510.9 215.2L510.9 280.6L511 330L511 329.8L511.1 329.8L511.1 330L511.2 329.9L511.2 329.9L511.3 206.3L511.4 232.8L511.6 329.8L511.7 329.8L512.1 329.6L512.2 329.6L512.3 329.5L512.4 224.5L512.5 329.5L512.6 315.3L512.7 329.6L512.8 329.4L512.8 235.6L512.9 329.4L512.9 329.5L513.1 211.8L513.1 329.5L513.2 236.5L513.4 329.4L513.5 329.4L513.6 329.2L513.7 329.2L513.9 204.4L514 213.5L514.2 329.2L514.2 329.2L514.2 329.1L514.2 329.1L514.3 329.2L514.5 240.2L514.5 261.4L514.8 329L514.8 329.1L514.8 329.1L515.1 230.1L515.3 328.9L515.4 329L515.6 227.8L515.8 328.8L515.9 328.9L516.1 212.1L516.2 328.8L516.2 328.7L516.4 328.7L516.4 328.8L516.5 328.6L516.5 215.5L516.7 288.3L516.8 215.7L516.8 328.7L517 328.7L517.1 328.6L517.9 328.4L518.1 328.4L518.2 199L518.2 328.4L518.4 222.4L518.5 328.4L518.6 328.3L518.7 328.4L518.9 229.5L519 328.2L519.2 328.3L519.3 277.7L519.4 328.1L519.6 328.1L519.6 328.2L519.7 209.9L519.8 328.1L519.9 233.9L520 328.1L520.1 201.3L520.2 328.1L520.2 328.1L520.4 328.1L521.1 327.9L521.2 327.9L521.4 224.6L521.5 279.8L521.7 327.9L521.8 327.9L522.1 327.8L522.2 327.8L522.2 327.8L522.4 232.8L522.5 253.6L522.7 327.8L522.8 327.8L524.2 327.6L524.4 327.6L524.7 235.3L525 327.6L525 327.6L525.3 217.7L525.6 327.6L525.6 327.6L526.1 327.5L526.6 324.2L527.1 342L527.6 341.1L528.1 337.9L528.6 342.9L529.1 338.5L529.6 342.1L530.1 341L530.6 342.7L531.1 340L531.6 341.1L532.1 340.6L532.6 341.3L533.1 341.9L533.6 340.8L534.1 339.3L534.6 339.4L535.1 339.2L535.6 339.2L536.1 341.3L536.6 339.7L537.1 341.3L537.6 338.7L538.1 340.3L538.6 338.1L539.1 338.5L539.6 340.1L540.1 338L540.6 338.8L541.1 337.4L541.6 337.3L542.1 338.1L542.6 338.1L543.1 337.6L543.6 337.7L544.1 337.5L544.6 337L545.1 337L545.6 336.4L546.1 336.8L546.6 337.6L547.1 336.2L547.6 336.6L548.1 335.7L548.6 336.1L549.1 336.1L549.6 335.3L550.1 335.7L550.6 335.9L551.1 334.7L551.6 335.3L552.1 334.2L552.6 335L553.1 335L553.6 333.8L554.1 333.6L554.6 334L555.1 333.3L555.6 333.8L556.1 333.2L556.6 332.6L557.1 333L557.6 332.8L558.1 332L558.6 331.8L559.1 332L559.6 331.9L560 331.6L562 330.7L564 329.8L566 328.9L568 328.1L570 327.2L572 326.4L574 325.7L576 324.9L578 324.2L580 323.5L582 322.8L584 322.1L586 321.4L588 320.7L590 320.1L592 319.4L594 318.8L596 318.2L598 317.6L600 317L602 316.4L604 315.9L606 315.4L608 314.9L610 314.4L612 313.9L614 313.5L616 313L618 312.6L620 312.1L622 311.7L624 311.3L626 310.9L628 310.6L630 310.2L632 309.8L634 309.5L636 309.1L638 308.8L640 308.5L642 308.2L644 307.8L646 307.5L648 307.2L650 306.9L652 306.6L654 306.3L656 306L658 305.6L658.2 305.2L658.4 305.5L658.6 305.1L658.8 305.1L659 305L659.2 305L659.4 305L659.6 305.2L659.8 304.9L660 305.1L660.2 304.9L660.4 305.4L660.6 304.8L660.8 305.2L661 304.8L661.2 305.4L661.4 304.7L661.6 304.9L661.8 304.5L662 305.3L662.2 304.4L662.4 304.7L662.6 304.4L662.8 304.7L663 304.2L663.2 305L663.4 304.3L663.6 305.2L663.8 304.1L664 304.7L664.2 303.9L664.4 304.6L664.6 304L664.8 305.1L665 303.7L665.2 304.8L665.4 303.7L665.6 304.9L665.8 303.4L666 304.9L666.2 303.4L666.4 304.4L666.6 303L666.8 304.7L667 302.8L667.2 304.8L667.4 302.6L667.6 304.5L667.8 302.3L668 304.3L668.2 302.4L668.4 304.9L668.6 301.8L668.8 304.4L669 301.7L669.2 304.5L669.4 301.5L669.6 304.3L669.8 301.3L670 304.2L670.2 300.6L670.4 304.5L670.6 300.2L670.8 304.8L671 300.5L671.2 304.5L671.4 299.5L671.6 304.2L671.8 299L672 304.5L672.2 298.9L672.4 304.2L672.6 298.7L672.8 304.4L673 298L673.2 304.6L673.4 298.1L673.6 304.4L673.8 296.6L674 304.4L674.2 296.1L674.4 304.4L674.6 296.9L674.8 304.1L675 295L675.2 304.1L675.4 294.4L675.6 304.3L675.8 292.9L676 304.3L676.2 290.6L676.4 303.8L676.6 289.5L676.8 304.3L677 287.5L677.2 304L677.4 284.6L677.6 304.1L677.8 282.1L678 304.2L678.2 280.7L678.4 303.8L678.6 282.7L678.8 304.2L679 275.8L679.2 304.3L679.4 273.5L679.6 303.9L679.8 276.7L680 304L680.2 272.9L680.4 304L680.6 269.1L680.8 303.6L681 274.5L681.2 304L681.4 266.8L681.6 303.8L681.8 265.8L682 303.7L682.2 264.6L682.4 304.1L682.6 263.5L682.8 304.1L683 264.1L683.2 303.6L683.4 261.9L683.6 304.1L683.8 259.6L684 303.8L684.2 258.3L684.4 304L684.6 256.4L684.8 304L685 254.7L685.2 303.4L685.4 253L685.6 303.5L685.8 257L686 304L686.2 254L686.4 303.8L686.6 251L686.8 303.8L687 254.8L687.2 303.9L687.4 253.7L687.6 303.9L687.8 249.7L688 303.3L688.2 248.9L688.4 304L688.6 246L688.8 303.6L689 244L689.2 303.5L689.4 248.7L689.6 303.4L689.8 247.3L690 303.9L690.2 240.9L690.4 303.5L690.6 246.2L690.8 303.8L691 250.1L691.2 303.4L691.4 249L691.6 303.5L691.8 245.1L692 303.4L692.2 236.2L692.4 303.4L692.6 231.9L692.8 303.5L693 240.5L693.2 303.7L693.4 230.2L693.6 303.7L693.8 224.7L694 303.2L694.2 235.4L694.4 303.3L694.6 217.9L694.8 303.4L695 215.5L695.2 303.1L695.4 219.5L695.6 303.2L695.8 214.2L696 303.2L696.2 211.3L696.4 303.7L696.6 217.4L696.8 303.3L697 222.1L697.2 303.2L697.4 208.4L697.6 303L697.8 218.8L698 303.4L698.2 220.3L698.4 303.1L698.6 204.1L698.8 303.5L699 210.1L699.2 303.4L699.4 206.9L699.6 303.3L699.8 211.7L700 303L700.2 208.1L700.4 303.3L700.6 218L700.8 303.4L701 198.4L701.2 303.5L701.4 211.2L701.6 303.4L701.8 209.1L702 303L702.2 205.1L702.4 303.2L702.6 196.6L702.8 302.9L703 195.7L703.2 303.1L703.4 196.3L703.6 303.2L703.8 210.4L704 303.1L704.2 200L704.4 302.9L704.6 195.3L704.8 303.2L705 210.1L705.2 303.1L705.4 196.1L705.6 303.3L705.8 199.5L706 303.3L706.2 205.2L706.4 303L706.6 202.2L706.8 302.7L707 195.9L707.2 302.8L707.4 199.7L707.6 303.2L707.8 204.8L708 303L708.2 205.2L708.4 302.6L708.6 190.7L708.8 303.2L709 195.9L709.2 302.8L709.4 192L709.6 302.6L709.8 196.1L710 302.7L710.2 188.7L710.4 302.6L710.6 196.3L710.8 303L711 185.1L711.2 302.7L711.4 197.5L711.6 302.5L711.8 184.8L712 302.6L712.2 186.9L712.4 302.9L712.6 186.1L712.8 302.5L713 188.1L713.2 302.5L713.4 184.3L713.6 302.6L713.8 203.7L714 302.3L714.2 197.1L714.4 302.3L714.6 192.1L714.8 302.6L715 204.1L715.2 302.4L715.4 205.5L715.6 302.5L715.8 206.9L716 302.9L716.2 189.8L716.4 302.7L716.6 182.5L716.8 302.8L717 190.3L717.2 302.9L717.4 188.1L717.6 302.7L717.8 192.4L718 302.7L718.2 186.1L718.4 302.7L718.6 205.3L718.8 302.7L719 192.1L719.2 302.7L719.4 199L719.6 302.2L719.8 187.8L720 302.6L720.2 186.9L720.4 302.4L720.6 184.3L720.8 302.2L721 197.6L721.2 302.3L721.4 187.2L721.6 302.6L721.8 182.3L722 302.3L722.2 188.7L722.4 302.5L722.6 188.4L722.8 302.4L723 207.1L723.2 302.2L723.4 186.4L723.6 302.5L723.8 186.9L724 302.1L724.2 207.3L724.4 302.5L724.6 190.9L724.8 302.5L725 193.5L725.2 302.5L725.4 187.3L725.6 302.4L725.8 195.5L726 302.5L726.2 186.9L726.4 302.1L726.6 183.1L726.8 302.3L727 180.8L727.2 302.5L727.4 181.9L727.6 302.4L727.8 189.5L728 302.1L728.2 186.7L728.4 302.2L728.6 205.5L728.8 302L729 202.1L729.2 302.1L729.4 186.5L729.6 301.9L729.8 190.1L730 302.4L730.2 203.9L730.4 302.1L730.6 188L730.8 302.1L731 184.9L731.2 302.1L731.4 180L731.6 301.8L731.8 190.4L732 301.8L732.2 180L732.4 301.8L732.6 192.4L732.8 301.7L733 193.5L733.2 302L733.4 185.5L733.6 302.1L733.8 180.5L734 302.2L734.2 189.7L734.4 301.9L734.6 183.9L734.8 301.9L735 186.8L735.2 302L735.4 188L735.6 302.1L735.8 187.9L736 301.9L736.2 184.5L736.4 302L736.6 200.3L736.8 301.8L737 182.5L737.2 302.2L737.4 179.6L737.6 302.1L737.8 198.4L738 301.8L738.2 174.1L738.4 301.8L738.6 179.4L738.8 301.9L739 180.6L739.2 301.5L739.4 172.6L739.6 302L739.8 181.5L740 301.7L740.2 187.4L740.4 301.6L740.6 191.4L740.8 301.5L741 184L741.2 301.8L741.4 174.4L741.6 302L741.8 173.3L742 301.4L742.2 173.3L742.4 301.5L742.6 181.5L742.8 301.8L743 174.2L743.2 301.7L743.4 189L743.6 301.8L743.8 174.2L744 301.7L744.2 188.7L744.4 301.6L744.6 194.2L744.8 301.7L745 177.8L745.2 301.3L745.4 184.6L745.6 301.7L745.8 195.4L746 301.7L746.2 173.2L746.4 301.5L746.6 175.9L746.8 301.6L747 176.4L747.2 301.4L747.4 181.5L747.6 301.6L747.8 184.5L748 301.4L748.2 194.3L748.4 301.5L748.6 178.4L748.8 301.4L749 178.7L749.1 301.8"/>
<path stroke="#0000ff" d="M82.8 533.1L205 533.1L205.5 533.1L206 533.1L206.5 533.1L207 533.1L207.5 533.1L208 533.1L208.5 533.1L209 533.1L209.5 533.1L210 533.1L210.5 533.1L211 533.1L211.5 533.1L212 533.1L212.5 533.1L213 533.1L213.5 533.1L213.8 532.6L214 533.1L214.2 532.5L214.5 533.1L214.8 532.6L215 533.1L215.2 532.6L215.5 533.1L215.8 532.4L216 533.1L216.2 532.5L216.5 533.1L216.8 532.5L217 533.1L217.2 532.4L217.5 533.1L217.8 532.4L218 533.1L218.2 532.4L218.5 533.1L218.8 532.3L219 533.1L219.2 532.3L219.5 533.1L219.8 532.3L220 533.1L220.2 532.2L220.5 533.1L220.8 532.3L221 533.1L221.2 532.2L221.5 533.1L221.8 532.2L222 533.1L222.2 532.1L222.5 533.1L222.8 531.9L223 533.1L223.2 531.9L223.5 533.1L223.8 531.8L224 533.1L224.2 531.5L224.5 533.1L224.8 531.6L225 533.1L225.2 531.6L225.5 533.1L225.8 531.5L226 533.1L226.2 531.4L226.5 533.1L226.8 531.2L227 533.1L227.2 531L227.5 533.1L227.8 530.9L228 533.1L228.2 531L228.5 533.1L228.8 531L229 533.1L229.2 530.5L229.5 533.1L229.8 530.7L230 533.1L230.2 530.7L230.5 533.1L230.8 530.3L231 533.1L231.2 530.6L231.5 533.1L231.8 530.7L232 533.1L232.2 530.5L232.5 533.1L232.8 530.5L233 533.1L233.2 529.9L233.5 533.1L233.8 529.5L234 533.1L234.2 529.9L234.5 533.1L234.8 529.5L235 533.1L235.2 529.6L235.5 533.1L235.8 529.6L236 533.1L236.2 529.2L236.5 533.1L236.8 529.9L237 533.1L237.2 529.6L237.5 533.1L237.8 529.7L238 533.1L238.2 529.7L238.5 533.1L238.8 529.1L239 533.1L239.2 528.8L239.5 533.1L239.8 528.4L240 533.1L240.2 529.1L240.5 533.1L240.8 528.5L241 533L241.2 528.5L241.5 533L241.8 528.2L242 533L242.2 527.8L242.5 533L242.8 528L243 533L243.2 528.3L243.5 533L243.8 527.9L244 533L244.2 527.5L244.5 533L244.8 528.4L245 533L245.2 527.5L245.5 533L245.8 528L246 533L246.2 527.5L246.5 533L246.8 527.4L247 533L247.2 527.2L247.5 533L247.8 527.6L248 533L248.2 533L248.2 531L250.2 532.9L252.2 532.9L253.4 532.9L253.7 520.8L254 532.9L254.2 532.8L256.2 532.8L258.2 532.8L258.6 532.7L258.7 532.7L258.9 527.3L259 530.4L259.2 532.7L259.3 532.7L260.2 532.7L262.2 532.7L262.5 532.6L262.6 532.6L262.8 524.6L262.9 525.8L263.1 532.6L263.2 532.6L264.2 532.6L266.2 532.5L267.2 532.5L267.3 532.5L267.5 518.2L267.6 516.4L267.8 532.5L267.9 532.5L268.2 532.5L269 532.4L269.3 516.4L269.3 532.4L269.6 532.4L269.6 513.4L269.9 532.4L270 532.4L270.2 532.4L270.3 509.9L270.6 532.4L271 532.4L271.3 511.2L271.6 532.4L272.2 532.3L274.2 532.3L276.2 532.2L278.2 532.1L279.9 532L280.2 532L280.2 503.5L280.5 532L282.2 531.9L282.5 531.9L282.8 516.3L283.1 531.9L283.2 531.8L283.5 503.4L283.5 531.8L283.8 531.8L283.8 509.9L284.1 531.8L284.2 531.7L286.2 531.5L288.2 531.2L289.6 531L289.9 499L290 530.9L290.2 531L290.2 530.9L290.3 528.3L290.3 530.8L290.6 530.9L290.6 509.8L290.9 530.8L291 530.7L291.3 521.4L291.6 530.7L291.8 530.6L292.1 503.4L292.2 530.5L292.4 530.6L292.5 530.4L292.8 517.4L293.1 530.4L294.2 530.1L296.2 529.7L297.5 529.3L297.8 523.1L298.1 529.3L298.2 529.2L299.4 528.9L299.7 507.5L300 528.9L300.2 528.7L300.9 528.5L301.2 509L301.5 528.5L301.8 528.2L301.9 528.2L302.1 505.9L302.2 492.7L302.2 528.2L302.4 528.2L302.5 528.2L303.4 527.8L303.7 496.9L304 527.8L304.2 527.7L304.3 527.6L304.5 527.5L304.6 483.2L304.8 522.5L304.9 527.6L305.1 527.5L305.6 527.2L305.9 517.4L306.2 527.2L306.2 527.1L306.2 527.1L306.5 523.2L306.8 527.1L308.2 526.6L309.4 526.2L309.5 526.2L309.7 490.3L309.8 483.5L310 526.2L310.1 526.2L310.2 526L310.9 525.8L311.2 482.7L311.5 525.8L312.2 525.5L313.3 525L313.4 525L313.6 494.2L313.7 509.3L313.9 525L314 525L314.2 524.8L314.5 524.6L314.5 524.6L314.8 508.1L314.8 495L315.1 524.6L315.1 524.6L316.2 524.1L318.2 523.4L318.6 523.1L318.8 523.1L318.9 514.2L319.1 486.2L319.2 523.1L319.4 523.1L320.2 522.6L321.5 522L321.8 506.9L321.8 521.9L322.1 522L322.1 502.5L322.2 521.8L322.4 521.9L323.2 521.3L323.5 482.2L323.7 521L323.8 521.3L324 463.8L324.2 520.9L324.3 521L326.2 520L326.8 519.6L327.1 484.9L327.4 519.6L328 519L328.2 519.1L328.3 493.5L328.6 519L330.2 518.1L330.2 518L330.2 517.9L330.5 497.9L330.5 493.4L330.8 518L330.8 517.9L332.2 517.1L332.7 516.7L333 465.6L333.3 516.7L334.2 516.1L334.3 515.8L334.6 480.5L334.9 515.6L334.9 515.8L335.2 457.5L335.5 515.6L335.5 515.2L335.8 504.7L336.1 515.2L336.2 515L336.3 514.8L336.6 455.8L336.8 514.5L336.9 514.8L337.1 496.2L337.4 514.5L337.7 514L338 460.6L338.2 513.9L338.3 514L340.2 512.8L341.6 511.9L341.9 471.9L342.2 511.7L342.2 511.9L343.4 510.9L343.7 501.8L344 510.9L344.2 510.6L344.3 510.4L344.6 491.7L344.9 510.4L344.9 510L345.2 460.1L345.5 510L346.2 509.4L348.2 508.2L348.9 507.5L349.2 497.7L349.5 507.5L350.2 506.7L350.2 506.8L350.4 506.5L350.5 440.6L350.7 450.7L350.8 506.7L350.8 506.2L351 506.5L351.1 465.2L351.1 506L351.4 506.2L351.4 496L351.7 506L352.2 505.4L352.3 505.1L352.6 448.1L352.9 505.1L353.5 504.2L353.8 494.2L354.1 504.2L354.2 504L356.2 502.5L358.2 500.9L360.2 499.3L360.3 499L360.6 410.3L360.9 499L362.2 497.7L362.4 497.3L362.7 436.1L363 497.3L364.1 495.9L364.2 496.1L364.4 402.2L364.7 495.9L365.2 495L365.5 423.2L365.7 494.6L365.8 495L366 481.8L366.2 494.4L366.3 494.6L368.2 492.8L370.2 491.1L370.4 490.7L370.7 454.8L371 490.2L371 490.7L371.3 475.1L371.6 490.2L372.2 489.4L372.4 489L372.4 489L372.7 418.3L372.7 455.4L373 489L373 489L373.6 488L373.9 468.4L374 487.7L374.2 487.8L374.2 488L374.3 476.1L374.6 487.7L375.6 486.4L375.9 430.4L376.2 486.4L376.2 486.2L377 485.3L377.3 459.5L377.4 484.9L377.6 485.3L377.7 464.9L377.9 484.6L378 484.9L378 484.4L378.2 437.4L378.2 484.6L378.3 391.1L378.5 484.6L378.6 484.4L380.2 482.9L381.2 481.9L381.5 421.4L381.8 481.9L382.2 481.3L384.2 479.7L384.9 478.8L385.2 446.9L385.4 478.4L385.5 478.8L385.7 367.3L386 478.4L386.2 478.1L386.8 477.3L387.1 439.6L387.4 477.3L388.2 476.4L388.4 476L388.7 381.1L389 476L390.2 474.7L392.2 473.1L393.3 471.9L393.6 362.5L393.9 471.9L394.1 471.2L394.2 471.4L394.4 428.9L394.7 471.2L395.3 470.3L395.5 470.1L395.6 440.5L395.8 361.8L395.9 470.3L396.1 470.1L396.2 469.7L396.8 469L397.1 357.4L397.4 469L398.2 468L398.7 467.4L399 402.1L399.3 467.4L399.6 466.6L399.9 448.2L400.1 466.2L400.2 466.3L400.2 466.6L400.4 358.5L400.5 465.8L400.7 466.2L400.8 340.2L401.1 465.8L401.8 464.7L402.1 374.4L402.2 464.6L402.4 464.7L404.2 462.9L405.9 461.2L406.2 461.2L406.2 425.8L406.5 461.2L406.7 460.5L407 433.4L407.3 460.5L408.2 459.4L410.2 457.5L410.2 457.7L410.5 439.6L410.8 457.5L412.1 455.7L412.2 455.9L412.4 353.4L412.5 455.4L412.7 455.7L412.8 421L413.1 455.4L414.2 454.2L416 452.3L416.2 452.4L416.3 425L416.6 452.3L418.1 450.4L418.2 450.6L418.4 328.7L418.7 450.4L420.2 448.8L422.2 447L422.5 446.5L422.8 331.8L422.9 446.1L423.1 446.5L423.2 432.6L423.5 446.1L424.2 445.2L426.1 443.2L426.2 443.3L426.4 356.6L426.4 442.9L426.5 442.8L426.7 443.2L426.7 401.7L426.8 343.8L427 442.9L427.1 442.8L428.2 441.2L428.2 441.5L428.5 404.1L428.8 441.2L428.9 440.6L429.2 319.4L429.5 440.6L430.2 439.6L432.2 437.8L433.9 435.9L434.2 316.1L434.2 435.9L434.5 435.9L434.7 435.1L434.8 435L435 312.2L435.1 413.1L435.3 435.1L435.4 435L435.5 434.3L435.6 434.3L435.8 308.7L435.9 397.4L436.1 434.3L436.2 434L436.2 434.3L436.8 433.2L436.9 433L437.1 388.3L437.2 414.3L437.4 433.2L437.5 433L437.8 432.2L438.1 390.6L438.2 432.1L438.2 431.8L438.4 432.2L438.4 431.6L438.5 352.8L438.7 311.4L438.8 431.8L439 431.6L440.2 430.2L440.6 429.5L440.9 369.9L441.2 429.5L442.2 428.3L443.6 426.7L443.9 316.9L444.2 426.4L444.2 426.7L446.2 424.4L446.6 423.7L446.9 305.7L447.2 423.7L448.2 422.5L450.2 420.5L451.7 418.7L452 356.6L452.2 418.5L452.2 418.2L452.3 418.7L452.5 386.8L452.8 418.2L453.6 416.8L453.9 355L454.2 416.5L454.2 416.8L456.2 414.5L458.2 412.5L460.2 410.4L460.7 409.6L461 313.3L461.3 409.6L462.2 408.3L463.3 406.7L463.6 314.6L463.9 406.7L464.2 406L464.6 405.1L464.9 404.8L464.9 304.7L465.2 354.5L465.2 405.1L465.5 404.8L465.8 403.8L466 403.5L466.1 284.1L466.2 403.7L466.2 403.3L466.3 310.6L466.4 403.8L466.5 394.8L466.6 403.5L466.8 403.3L468.2 401.4L468.7 400.6L469 293.5L469.2 400.1L469.3 400.6L469.5 304.6L469.8 400.1L470.2 399.4L472.1 397.3L472.2 397.5L472.4 382.3L472.7 396.8L472.7 397.3L473 333.1L473.3 396.8L474.2 395.8L476.2 394.2L477.1 393.3L477.4 272.2L477.7 393.3L478 392.6L478.2 392.7L478.3 326.7L478.6 392.6L478.7 392L479 346.2L479.1 391.7L479.3 392L479.4 296.6L479.7 391.7L480.2 391.2L481.9 389.8L482.2 312.8L482.2 389.7L482.5 389.8L483.8 388.4L484.1 322.2L484.2 388.3L484.4 388.4L484.5 388L484.8 270.6L485.1 388L486.2 387L486.5 386.6L486.7 386.5L486.8 386.4L486.8 283.8L487 275.7L487.1 280.9L487.1 386.6L487.3 386.5L487.4 386.4L488.2 385.7L489.1 384.9L489.4 323.8L489.7 384.9L489.9 384.4L490.2 384.4L490.2 326.8L490.5 384.4L492 383.1L492.2 383.1L492.3 286.9L492.6 383.1L493 382.4L493.3 274.7L493.6 382.4L494.2 381.8L496.2 380.5L497 379.8L497.3 289.4L497.6 379.8L498.2 379.3L498.4 379L498.7 263.9L499 379L499.1 378.5L499.4 365.3L499.7 378.1L499.7 378.5L500 265.5L500.2 378L500.3 378.1L500.4 377.7L500.6 377.5L500.6 377.5L500.7 284.8L500.9 273.1L500.9 284.1L501 377.7L501.2 377.5L501.2 377.5L502.2 376.7L502.3 376.4L502.6 257.8L502.9 376.4L504.2 375.3L504.5 374.9L504.8 335.6L505.1 374.9L505.4 374.3L505.7 258.6L505.7 374.1L506 374.3L506 274.1L506.2 374L506.3 374.1L506.6 373.5L506.9 244.3L507.2 373.5L507.3 373L507.6 312.4L507.9 373L508.2 372.6L508.7 372L509 285.2L509.3 372L509.4 371.6L509.7 258.1L510 371.6L510.2 371.2L510.3 371L510.5 370.8L510.6 264L510.6 370.7L510.8 278.2L510.9 371L510.9 276.3L511 370.4L511.1 370.4L511.1 370.8L511.2 370.7L511.3 261.6L511.4 259.5L511.6 370.4L511.7 370.4L512.2 369.9L512.9 369.2L513.2 267.8L513.5 369.2L513.7 368.7L514 247.3L514.2 368.5L514.3 368.7L515.3 367.7L515.6 263.3L515.8 367.3L515.9 367.7L516.1 276.1L516.2 367.2L516.4 367.3L516.5 366.9L516.8 248.2L517.1 366.9L517.9 366L518.1 365.9L518.2 295.8L518.2 366L518.4 285.8L518.5 366L518.6 365.6L518.7 365.9L518.9 259.2L519.2 365.6L519.4 365.1L519.6 365L519.7 256.9L519.8 364.9L519.9 255.8L520 365.1L520.1 240L520.2 364.8L520.2 365L520.4 364.9L521.1 364.1L521.4 257.4L521.7 364.1L522.1 363.5L522.2 363.6L522.4 247.5L522.7 363.5L524.2 362.5L524.4 362.3L524.7 306.9L525 362.3L525 362L525.3 270.6L525.6 362L525.6 361.8L525.6 361.8L527.6 360.8L529.6 359.9L531.6 359L533.6 358.1L535.6 357.2L537.6 356.4L539.6 355.5L541.6 354.6L543.6 353.8L545.6 352.9L547.6 352L549.6 351.1L551.6 350.2L553.6 349.4L555.6 348.5L557.6 347.6L559.6 346.8L561.6 345.9L563.6 345.1L565.6 344.3L567.6 343.5L569.6 342.8L571.6 342L573.6 341.3L575.6 340.7L577.6 340L579.6 339.4L581.6 338.7L583.6 338.1L585.6 337.5L587.6 336.9L589.6 336.3L591.6 335.8L593.6 335.2L595.6 334.7L597.6 334.2L599.6 333.6L601.6 333.2L603.6 332.7L605.6 332.2L607.6 331.8L609.6 331.3L611.6 330.9L613.6 330.5L615.6 330.1L617.6 329.8L619.6 329.4L621.6 329L623.6 328.7L625.6 328.3L627.6 328L629.6 327.6L631.6 327.3L633.6 327L635.6 326.7L637.6 326.4L639.6 326L641.6 325.7L643.6 325.4L645.6 325.2L647.6 324.9L649.6 324.6L651.6 324.3L653.6 324.1L655.6 323.8L657.6 323.5L659.6 323.3L661.6 323L663.6 322.7L665.6 322.5L667.6 322.2L669.6 321.9L671.6 321.6L673.6 321.1L673.8 320.8L674 320.5L674.2 320.8L674.4 320.4L674.6 320.7L674.8 320.8L675 320.6L675.2 320.6L675.4 320.5L675.6 320.8L675.8 320.4L676 320.8L676.2 320.4L676.4 320.4L676.6 320.4L676.8 320.4L677 320.2L677.2 320L677.4 320.1L677.6 320.2L677.8 320L678 319.9L678.2 319.8L678.4 320.3L678.6 319.7L678.8 320.1L679 319.7L679.2 319.9L679.4 319.6L679.6 319.8L679.8 319.4L680 320L680.2 319.2L680.4 319.8L680.6 319.3L680.8 319.4L681 318.9L681.2 319.4L681.4 318.6L681.6 319.6L681.8 318.8L682 319.3L682.2 318.2L682.4 319.4L682.6 317.9L682.8 319.2L683 317.7L683.2 319.2L683.4 317.8L683.6 319.4L683.8 316.9L684 319.1L684.2 317.5L684.4 319L684.6 316.3L684.8 319.3L685 316.5L685.2 319.2L685.4 315.9L685.6 319.2L685.8 315.3L686 319.3L686.2 315.4L686.4 318.9L686.6 314.4L686.8 319.1L687 314.5L687.2 318.7L687.4 313.6L687.6 319.3L687.8 313.4L688 319.2L688.2 312.4L688.4 319.2L688.6 311.5L688.8 319L689 313.3L689.2 319.1L689.4 311.8L689.6 318.5L689.8 312L690 318.4L690.2 309.3L690.4 318.4L690.6 310.8L690.8 319L691 309.8L691.2 318.6L691.4 307.4L691.6 318.4L691.8 307.8L692 318.4L692.2 308.1L692.4 318.2L692.6 306.1L692.8 318.7L693 304.3L693.2 318.2L693.4 302.4L693.6 318.5L693.8 301.4L694 318.5L694.2 300.4L694.4 318L694.6 299.9L694.8 318.5L695 299.1L695.2 318.2L695.4 298.1L695.6 318L695.8 300.2L696 317.9L696.2 294.9L696.4 318.3L696.6 296.4L696.8 318.2L697 292.4L697.2 318L697.4 291L697.6 318L697.8 291.3L698 318.1L698.2 288.9L698.4 318.2L698.6 287.4L698.8 318.3L699 286.3L699.2 317.7L699.4 289.4L699.6 318.2L699.8 284.2L700 318.1L700.2 288.6L700.4 318.1L700.6 282.3L700.8 317.9L701 284.9L701.2 317.7L701.4 286.4L701.6 317.5L701.8 280.1L702 317.5L702.2 289.5L702.4 317.5L702.6 285L702.8 317.4L703 277.5L703.2 317.4L703.4 277.2L703.6 317.8L703.8 276.5L704 317.5L704.2 278.5L704.4 317.2L704.6 285.8L704.8 317.6L705 279.4L705.2 317.3L705.4 274.6L705.6 317.1L705.8 274.8L706 317.5L706.2 286.7L706.4 317L706.6 279.2L706.8 317.4L707 274L707.2 317.6L707.4 275.9L707.6 317L707.8 272.2L708 316.9L708.2 268.2L708.4 317.2L708.6 265.4L708.8 317.3L709 275.5L709.2 317L709.4 266.5L709.6 317.3L709.8 255.9L710 317.3L710.2 256.8L710.4 317.2L710.6 257.4L710.8 317L711 270.8L711.2 316.8L711.4 252.7L711.6 317.1L711.8 249.7L712 316.7L712.2 252L712.4 316.7L712.6 248.2L712.8 316.7L713 248.1L713.2 317L713.4 250.7L713.6 317.1L713.8 252.9L714 316.7L714.2 248.2L714.4 317L714.6 259L714.8 316.4L715 261L715.2 316.6L715.4 251.4L715.6 316.4L715.8 249.2L716 316.6L716.2 242.4L716.4 316.9L716.6 240.9L716.8 316.8L717 246.1L717.2 316.4L717.4 241.6L717.6 316.6L717.8 242.2L718 316.8L718.2 247.4L718.4 316.8L718.6 253.2L718.8 316.5L719 246.9L719.2 316.4L719.4 254.8L719.6 316.6L719.8 250.4L720 316.3L720.2 245.1L720.4 316.1L720.6 244.8L720.8 316.3L721 242.5L721.2 316.5L721.4 240.2L721.6 316.1L721.8 248.7L722 316.6L722.2 239.5L722.4 316.4L722.6 239.4L722.8 316.3L723 241.4L723.2 316.5L723.4 247.1L723.6 316.5L723.8 255.1L724 316.5L724.2 259L724.4 316.4L724.6 240.3L724.8 315.9L725 240.4L725.2 315.9L725.4 260.4L725.6 315.8L725.8 239.2L726 316.3L726.2 240.1L726.4 316.1L726.6 238.4L726.8 316.3L727 251.1L727.2 315.9L727.4 232.7L727.6 316L727.8 229.5L728 315.8L728.2 226.7L728.4 316L728.6 249.9L728.8 316L729 223.2L729.2 316.1L729.4 223.8L729.6 315.9L729.8 233.8L730 316.2L730.2 228L730.4 315.6L730.6 246.7L730.8 315.7L731 256.8L731.2 315.9L731.4 236L731.6 315.8L731.8 233.7L732 315.6L732.2 232.7L732.4 315.7L732.6 239.2L732.8 316.1L733 227.7L733.2 315.6L733.4 239.8L733.6 315.7L733.8 244.1L734 315.5L734.2 222.5L734.4 316L734.6 221.4L734.8 315.8L735 225.2L735.2 315.4L735.4 237.1L735.6 316L735.8 236.4L736 315.3L736.2 242L736.4 315.8L736.6 226.3L736.8 315.8L737 221.7L737.2 315.4L737.4 242L737.6 315.9L737.8 226L738 315.8L738.2 231.7L738.4 315.9L738.6 236.8L738.8 315.7L739 230L739.2 315.7L739.4 229.6L739.6 315.5L739.8 242.6L740 315.8L740.2 234.7L740.4 315.9L740.6 228.8L740.8 315.7L741 228.6L741.2 315.5L741.4 237.3L741.6 315.3L741.8 230.2L742 315.6L742.2 227.8L742.4 315.7L742.6 233.2L742.8 315.2L743 230L743.2 315.2L743.4 227.7L743.6 315.8L743.8 228.6L744 315.3L744.2 229.8L744.4 315.5L744.6 228.9L744.8 315.6L745 227.1L745.2 315.7L745.4 239.5L745.6 315.3L745.8 230L746 315.2L746.2 235.5L746.4 315.7L746.6 232.3L746.8 315.5L747 228.7L747.2 315.7L747.4 230.1L747.6 315.6L747.8 230.6L748 315.2L748.2 233.5L748.4 315.3L748.6 238.7L748.8 315.8L749 248.2L749.1 315.8"/>
<path stroke="#00ffff" d="M82.8 533.1L84.8 533.1L86.8 533.1L88.8 533.1L90.8 533.1L92.8 533.1L94.8 533.1L96.8 533.1L98.8 533.1L100.8 533.1L102.8 533.1L104.8 533.1L106.8 533.1L108.8 533.1L110.8 533.1L112.8 533.1L114.8 533.1L116.8 533.1L118.8 533.1L120.8 533.1L122.8 533.1L124.8 533.1L126.8 533.1L128.8 533.1L130.8 533.1L132.8 533.1L134.8 533.1L136.8 533.1L138.8 533.1L140.8 533.1L142.8 533.1L144.8 533.1L146.8 533.1L148.8 533.1L150.8 533.1L152.8 533.1L154.8 533.1L156.8 533.1L158.8 533.1L160.8 533.1L162.8 533.1L164.8 533.1L166.8 533.1L168.8 533.1L170.8 533.1L172.8 533.1L174.8 533.1L176.8 533.1L178.8 533.1L180.8 533.1L182.8 533.1L184.8 533.1L186.8 533.1L188.8 533.1L190.8 533.1L192.8 533.1L194.8 533.1L196.8 533.1L198.8 533.1L200.8 533.1L202.8 533.1L204.8 533.1L206.8 533.1L208.8 533.1L210.8 533.1L212.8 533.1L214.8 533.1L216.8 533.1L218.8 533.1L220.8 533.1L222.8 533.1L224.8 533.1L226.8 533.1L228.8 533.1L230.8 533.1L232.8 533.1L234.8 533.1L236.8 533.1L238.8 533.1L240.8 533.1L242.8 533.1L244.8 533.1L246.8 533.1L248.8 533.1L250.8 533.1L252.8 533.1L254.8 533L256.8 533L258.8 533L260.8 533L262.8 532.9L264.8 532.9L266.8 532.9L268.8 532.9L269.7 532.8L270 530.7L270.3 532.8L270.8 532.8L272.8 532.8L274.8 532.7L276.8 532.7L278.8 532.7L279.7 532.6L280 530L280.3 532.6L280.8 532.6L282.8 532.6L284.8 532.5L285.7 532.5L286 529L286.3 532.5L286.8 532.5L288.8 532.4L290.8 532.4L292.8 532.3L294.8 532.2L296.8 532.1L298.8 531.9L300.8 531.7L302.8 531.5L304.8 531.3L306.8 531.1L308.8 530.8L310.8 530.6L312.8 530.3L314.8 530L316.8 529.7L317.7 529.6L318 520.8L318.3 529.6L318.8 529.4L320.8 529.1L322.2 528.8L322.5 516.6L322.8 528.8L322.8 528.8L324.8 528.4L326.8 528L328.8 527.6L330.8 527.1L332.8 526.6L334.8 526L336.8 525.4L338.8 524.8L340.8 524.2L342.8 523.6L344.7 522.8L344.8 522.9L345 477.3L345.3 522.8L346.8 522.1L348.8 521.3L350.8 520.5L351.7 519.9L352 514.6L352.3 519.9L352.8 519.5L354.8 518.5L356.8 517.4L358.8 516.3L360.8 515.2L362.8 514L363.7 513.3L364 453.8L364.3 513.3L364.8 512.8L366.8 511.6L368.8 510.3L370.8 509.1L372.8 507.8L374.8 506.6L376.8 505.3L378.8 504.1L380.7 502.7L380.8 502.8L381 432.7L381.3 502.7L382.8 501.6L384.8 500.2L386.2 499.1L386.5 490.4L386.8 498.9L386.8 499.1L388.8 497.6L390.7 496L390.8 496.2L391 485.5L391.3 496L392.8 494.8L394.8 493.4L396.8 491.9L398.8 490.5L400.7 488.8L400.8 489L401 450.3L401.3 488.8L402.8 487.5L404.8 486L405.7 485L406 476.3L406.3 485L406.8 484.4L408.8 482.9L410.8 481.3L412.8 479.6L414 478.3L414.3 401.3L414.6 478.3L414.8 477.9L416.5 476.1L416.8 476.1L416.8 406.2L417.1 476.1L418.8 474.3L420.8 472.5L422.8 470.7L423.2 470L423.5 445.5L423.8 470L424.8 468.8L426.8 466.9L428.8 465.1L429.2 464.4L429.5 390.9L429.8 464.4L430.8 463.2L432.2 461.6L432.5 395.1L432.8 461.3L432.8 461.6L434.8 459.5L436.8 457.7L437.1 457.2L437.4 441.4L437.7 457.2L438.8 455.9L439.8 454.8L440.1 423.3L440.4 454.8L440.8 454.2L442.8 452.5L444.7 450.7L444.8 450.9L445 441.9L445.3 450.7L446.8 449.2L448.8 447.7L450.8 446.1L452.8 444.5L454.8 442.9L456.7 441.1L456.8 441.3L457 434.1L457.3 441.1L458.8 439.6L460.2 438.2L460.5 425.9L460.8 437.9L460.8 438.2L462.8 436.1L464.8 434.3L466.8 432.4L468.4 430.6L468.7 412.2L468.8 430.5L469 430.6L470.8 428.7L471.7 427.6L472 422.4L472.3 427.6L472.8 426.9L474.8 425.3L476.8 423.7L478.8 422.2L480.8 420.7L482.8 419.2L483.1 418.7L483.4 398.6L483.7 418.7L484.8 417.7L486.8 416.3L488.8 414.9L489.7 414L490 407L490.3 414L490.8 413.5L492.8 412.1L494.8 410.7L496.8 409.4L498.2 408.3L498.5 401.3L498.8 408.1L498.8 408.3L500.8 406.9L501.7 406.1L502 397.4L502.3 406.1L502.8 405.6L504.8 404.4L506.8 403.2L508.8 402L510.5 400.9L510.8 400.9L510.8 383.4L511.1 400.9L512.8 399.8L514.8 398.8L516.8 397.8L517.7 397.3L518 364L518.3 397.3L518.8 396.9L520.8 395.9L521.7 395.3L522 388.3L522.3 395.3L522.8 394.9L524.8 393.9L525.6 393.5L525.6 393.5L527.6 392.5L529.6 391.4L531.6 390.3L533.6 389.1L535.6 388L537.6 386.9L539.6 385.8L541.6 384.8L543.6 383.8L545.6 382.8L547.6 381.8L549.6 380.8L551.6 379.8L553.6 378.8L555.6 377.9L557.6 376.9L559.6 376L561.6 375.1L563.6 374.2L565.6 373.3L567.6 372.5L569.6 371.7L571.6 370.9L573.6 370.1L575.6 369.3L577.6 368.6L579.6 367.8L581.6 367.1L583.6 366.4L585.6 365.7L587.6 365L589.6 364.3L591.6 363.7L593.6 363.1L595.6 362.4L597.6 361.8L599.6 361.3L601.6 360.7L603.6 360.2L605.6 359.7L607.6 359.2L609.6 358.8L611.6 358.4L613.6 358L615.6 357.6L617.6 357.2L619.6 356.8L621.6 356.4L623.6 356.1L625.6 355.8L627.6 355.4L629.6 355.1L631.6 354.8L633.6 354.5L635.6 354.1L637.6 353.8L639.6 353.5L641.6 353.2L643.6 352.9L645.6 352.6L647.6 352.3L649.6 351.9L651.6 351.6L653.6 351.3L655.6 351.1L657.6 350.8L659.6 350.5L661.6 350.2L663.6 350L665.6 349.7L667.6 349.5L669.6 349.3L671.6 349L673.6 348.8L675.6 348.7L677.6 348.5L679.6 348.3L681.6 348.1L683.6 348L685.6 347.8L687.6 347.7L689.6 347.5L691.6 347.4L693.6 347.2L695.6 347.1L697.6 346.9L699.6 346.8L701.6 346.6L703.6 346.5L705.6 346.3L707.6 346.1L709.6 346L711.6 345.8L713.6 345.6L715.6 345.5L717.6 345.3L719.6 345.1L721.6 345L723.6 344.8L725.6 344.6L727.6 344.5L729.6 344.3L731.6 344.1L733.6 343.9L735.6 343.8L737.6 343.6L739.6 343.4L741.6 343.3L743.6 343.1L745.6 342.9L747.6 342.7L749.1 342.6"/>
<path stroke="#000000" stroke-width="1.6" d="M82.8 533.1L84.8 533.1L86.8 533.1L88.8 533.1L90.8 533.1L92.8 533.1L94.8 533.1L96.8 533.1L98.8 533.1L100.8 533.1L102.8 533.1L104.8 533.1L106.8 533.1L108.8 533.1L110.8 533.1L112.8 533.1L114.8 533.1L116.8 533.1L118.8 533.1L120.8 533.1L122.8 533.1L124.8 533.1L126.8 533.1L128.8 533.1L130.8 533.1L132.8 533.1L134.8 533.1L136.8 533.1L138.8 533.1L140.8 533.1L142.8 533.1L144.8 533.1L146.8 533.1L148.8 533.1L150.8 533.1L152.8 533.1L154.8 533.1L156.8 533.1L158.8 533.1L160.8 533.1L162.8 533.1L164.8 533.1L166.8 533.1L168.8 533.1L170.8 533.1L172.8 533.1L174.8 533.1L176.8 533.1L178.8 533.1L180.8 533.1L182.8 533.1L184.8 533.1L186.8 533.1L188.8 533.1L190.8 533.1L192.8 533.1L194.8 533.1L196.8 533.1L198.8 533.1L200.8 533.1L202.8 533.1L204.8 533.1L206.8 533.1L208.8 533.1L210.8 533.1L212.8 533.1L214.8 533.1L216.8 533.1L218.8 533.1L220.8 533.1L222.8 533.1L224.8 533.1L226.8 533.1L228.8 533.1L230.8 533.1L232.8 533.1L234.8 533.1L236.8 533.1L238.8 533.1L240.8 533.1L242.8 533.1L244.8 533.1L246.8 533.1L248.8 533.1L250.8 533.1L252.8 533.1L254.8 533.1L256.8 533.1L258.8 533.1L260.8 533.1L262.8 533.1L264.8 533L266.8 533L268.8 533L270.8 533L272.8 533L274.8 532.9L276.8 532.9L278.7 532.9L278.8 532.9L279 528.5L279.3 532.9L280.8 532.9L282.8 532.8L284.7 532.8L284.8 532.8L285 527.9L285.3 532.8L286.8 532.8L288.8 532.7L290.8 532.7L292.8 532.7L294.8 532.6L296.8 532.6L298.8 532.5L300.8 532.5L302.8 532.5L304.8 532.4L306.8 532.3L308.8 532.3L310.8 532.2L312.8 532.1L314.8 532L316.8 531.8L317.7 531.7L318 521.2L318.3 531.7L318.8 531.7L320.8 531.5L322.2 531.4L322.5 519.1L322.8 531.3L322.8 531.4L324.8 531.2L325.7 531L326 524L326.3 531L326.8 531L328.8 530.8L330.8 530.6L332.8 530.3L334.8 530.1L336.8 529.8L338.8 529.5L340.8 529.1L342.8 528.8L344.7 528.3L344.8 528.4L345 521.3L345.3 528.3L346.8 528L348.8 527.5L350.8 527.1L352.8 526.6L354.8 526.1L356.8 525.6L358.8 525.1L360.8 524.6L362.8 524L363.7 523.7L364 511.4L364.3 523.7L364.8 523.4L366.8 522.7L368.8 522L370.8 521.3L372.8 520.5L374.8 519.6L376.8 518.8L378.8 517.8L380.7 516.8L380.8 516.9L381 505.8L381.3 516.8L382.8 515.9L384.8 514.8L386.2 513.9L386.5 507.8L386.8 513.7L386.8 513.9L388.8 512.4L390.8 511.1L392.8 509.6L394.8 508.1L396.8 506.5L398.8 505L400.7 503.4L400.8 503.5L401 482.9L401.3 503.4L402.8 502L404.8 500.6L406.8 499.1L408.8 497.5L410.8 496L412.8 494.4L414.8 492.8L415.2 492.2L415.5 486.1L415.8 492.2L416.8 491.1L418.8 489.4L420.8 487.7L422.8 486L424.8 484.2L426.8 482.5L428.8 480.8L430.7 478.9L430.8 479.1L431 471.9L431.3 478.9L432.8 477.4L434.8 475.8L436.8 474.2L438.7 472.5L438.8 472.7L439 466.4L439.3 472.5L440.8 471.2L442.8 469.7L444.8 468.2L446.8 466.8L448.8 465.4L450.8 464L452.8 462.6L454.8 461.2L456.8 459.8L458.8 458.4L460.8 456.9L462.8 455.5L464.8 454L466.8 452.6L468.8 451.1L470.8 449.7L472.8 448.2L474.8 446.7L476.8 445.3L478.8 443.9L480.8 442.4L482.8 441L484.8 439.5L486.8 438.1L488.8 436.6L490.8 435.2L492.8 433.7L494.8 432.3L496.8 430.8L498.8 429.4L500.8 428L502.8 426.7L504.8 425.3L506.8 424L508.8 422.7L510.8 421.5L512.8 420.3L514.8 419.2L516.3 418.1L516.6 412.9L516.8 418L516.9 418.1L518.8 416.9L520.8 415.8L522.8 414.7L524.8 413.7L525.6 413.3L525.6 413.3L527.6 412.3L529.6 411.2L531.6 410.3L533.6 409.3L535.6 408.3L537.6 407.4L539.6 406.5L541.6 405.6L543.6 404.7L545.6 403.8L547.6 402.9L549.6 402L551.6 401.1L553.6 400.2L555.6 399.3L557.6 398.4L559.6 397.6L561.6 396.7L563.6 395.9L565.6 395L567.6 394.2L569.6 393.5L571.6 392.7L573.6 391.9L575.6 391.2L577.6 390.5L579.6 389.8L581.6 389.1L583.6 388.4L585.6 387.7L587.6 387L589.6 386.3L591.6 385.7L593.6 385.1L595.6 384.4L597.6 383.8L599.6 383.2L601.6 382.7L603.6 382.1L605.6 381.6L607.6 381.1L609.6 380.6L611.6 380.1L613.6 379.7L615.6 379.2L617.6 378.8L619.6 378.3L621.6 377.9L623.6 377.5L625.6 377.1L627.6 376.7L629.6 376.3L631.6 376L633.6 375.6L635.6 375.2L637.6 374.9L639.6 374.5L641.6 374.1L643.6 373.8L645.6 373.4L647.6 373.1L649.6 372.7L651.6 372.4L653.6 372L655.6 371.7L657.6 371.4L659.6 371.1L661.6 370.7L663.6 370.4L665.6 370.2L667.6 369.9L669.6 369.6L671.6 369.3L673.6 369.1L675.6 368.8L677.6 368.6L679.6 368.3L681.6 368.1L683.6 367.9L685.6 367.7L687.6 367.4L689.6 367.2L691.6 367L693.6 366.8L695.6 366.6L697.6 366.4L699.6 366.2L701.6 366.1L703.6 365.9L705.6 365.7L707.6 365.5L709.6 365.4L711.6 365.2L713.6 365L715.6 364.9L717.6 364.7L719.6 364.5L721.6 364.4L723.6 364.2L725.6 364.1L727.6 363.9L729.6 363.8L731.6 363.6L733.6 363.5L735.6 363.4L737.6 363.2L739.6 363.1L741.6 363L743.6 362.9L745.6 362.7L747.6 362.6L749.1 362.5"/>
<path stroke="#000" stroke-width="1.7" d="M82.8 533.1L85.8 533.1L88.8 533.1L91.8 533.1L94.8 533.1L97.8 533.1L100.8 533.1L103.8 533.1L106.8 533.1L109.8 533.1L112.8 533.1L115.8 533.1L118.8 533.1L121.8 533.1L124.8 533.1L127.8 533.1L130.8 533.1L133.8 533.1L136.8 533.1L139.8 533.1L142.8 533.1L145.8 533.1L148.8 533.1L151.8 533.1L154.8 533.1L157.8 533.1L160.8 533.1L163.8 533.1L166.8 533.1L169.8 533.1L172.8 533.1L175.8 533.1L178.8 533.1L181.8 533.1L184.8 533.1L187.8 533.1L190.8 533.1L193.8 533.1L196.8 533.1L199.8 533.1L202.8 533.1L205.8 533.1L208.8 533.1L211.8 533.1L214.8 533.1L217.8 533.1L220.8 533.1L223.8 533.1L226.8 533.1L229.8 533.1L232.8 533.1L235.8 533.1L238.8 533.1L241.8 533.1L244.8 533.1L247.8 533.1L250.8 533.1L253.8 533.1L256.8 533.1L259.8 533.1L262.8 533.1L265.8 533L268.8 533L271.8 533L274.8 532.9L277.8 532.9L280.8 532.9L283.8 532.8L286.8 532.8L289.8 532.7L292.8 532.7L295.8 532.6L298.8 532.5L301.8 532.5L304.8 532.4L307.8 532.3L310.8 532.2L313.8 532L316.8 531.8L319.8 531.6L322.8 531.3L325.8 531.1L328.8 530.8L331.8 530.5L334.8 530.1L337.8 529.6L340.8 529.1L343.8 528.6L346.8 528L349.8 527.3L352.8 526.6L355.8 525.9L358.8 525.1L361.8 524.3L364.8 523.4L367.8 522.4L370.8 521.3L373.8 520.1L376.8 518.8L379.8 517.4L382.8 515.9L385.8 514.3L388.8 512.4L391.8 510.3L394.8 508.1L397.8 505.8L400.8 503.5L403.8 501.3L406.8 499.1L409.8 496.8L412.8 494.4L415.8 491.9L418.8 489.4L421.8 486.8L424.8 484.2L427.8 481.7L430.8 479.1L433.8 476.6L436.8 474.2L439.8 471.9L442.8 469.7L445.8 467.5L448.8 465.4L451.8 463.3L454.8 461.2L457.8 459.1L460.8 456.9L463.8 454.8L466.8 452.6L469.8 450.4L472.8 448.2L475.8 446L478.8 443.9L481.8 441.7L484.8 439.5L487.8 437.4L490.8 435.2L493.8 433L496.8 430.8L499.8 428.7L502.8 426.7L505.8 424.7L508.8 422.7L511.8 420.9L514.8 419.2L517.8 417.5L520.8 415.8L523.8 414.2L526.8 412.7L529.8 411.1L532.8 409.7L535.8 408.2L538.8 406.8L541.8 405.5L544.8 404.1L547.8 402.8L550.8 401.4L553.8 400.1L556.8 398.8L559.8 397.5L562.8 396.2L565.8 395L568.8 393.8L571.8 392.6L574.8 391.5L577.8 390.4L580.8 389.3L583.8 388.3L586.8 387.3L589.8 386.3L592.8 385.3L595.8 384.4L598.8 383.5L601.8 382.6L604.8 381.8L607.8 381L610.8 380.3L613.8 379.6L616.8 378.9L619.8 378.3L622.8 377.7L625.8 377.1L628.8 376.5L631.8 375.9L634.8 375.4L637.8 374.8L640.8 374.3L643.8 373.7L646.8 373.2L649.8 372.7L652.8 372.2L655.8 371.7L658.8 371.2L661.8 370.7L664.8 370.3L667.8 369.8L670.8 369.4L673.8 369.1L676.8 368.7L679.8 368.3L682.8 368L685.8 367.6L688.8 367.3L691.8 367L694.8 366.7L697.8 366.4L700.8 366.1L703.8 365.9L706.8 365.6L709.8 365.3L712.8 365.1L715.8 364.8L718.8 364.6L721.8 364.4L724.8 364.1L727.8 363.9L730.8 363.7L733.8 363.5L736.8 363.3L739.8 363.1L742.8 362.9L745.8 362.7L748.8 362.6"/>
<path stroke="#ff2a2a" stroke-width="1.5" d="M743.7 113.2V0M745.3 113.2V26.6"/>
</g>
<path d="M82.8 8.25H749.1V533.1H82.8Z" fill="none" stroke="#000" stroke-width="1.5"/>
<g font-size="24">
<text x="72.2" y="541.5" text-anchor="end">0</text>
<text x="72.2" y="366.5" text-anchor="end">1</text>
<text x="72.2" y="191.6" text-anchor="end">2</text>
<text x="72.2" y="16.6" text-anchor="end">3</text>
<text x="68.9" y="558">0.1</text>
<text x="301.3" y="558">1</text>
<text x="517.1" y="558">10</text>
<text x="733" y="558">100</text>
<text x="765" y="471.2">0.1</text>
<text x="765" y="331.2">0.3</text>
<text x="765" y="191.2">0.5</text>
<text x="765" y="51.2">0.7</text>
</g>
<text font-size="23.7" x="326.5" y="583.5">Wavelength [<tspan font-style="italic">µ</tspan> m]</text>
<text font-size="23.7" transform="translate(24 432.1) rotate(-90)">Secondary eclipse depth [10<tspan font-size="18" dy="-10">-4</tspan><tspan dy="10">]</tspan></text>
<text font-size="23.7" transform="translate(825.2 390.2) rotate(-90)">Planetary to stellar flux</text>
<text font-size="29" transform="translate(693.0 47.7) scale(0.88 0.94)">(a)</text>
<text font-size="24" x="546.3" y="430.9">T</text>
<text font-size="19.2" x="560.5" y="438.8">eq</text>
<text font-size="24" x="581.8" y="430.9" textLength="81.3" lengthAdjust="spacingAndGlyphs">=3000K</text>
<path d="M673 423.6H726" stroke="#ff0000" stroke-width="1.3" fill="none"/>
<text font-size="24" x="546.3" y="451.6">T</text>
<text font-size="19.2" x="560.5" y="459.5">eq</text>
<text font-size="24" x="581.8" y="451.6" textLength="81.3" lengthAdjust="spacingAndGlyphs">=2500K</text>
<path d="M673 442.7H726" stroke="#00ff00" stroke-width="1.3" fill="none"/>
<text font-size="24" x="546.3" y="472.4">T</text>
<text font-size="19.2" x="560.5" y="480.3">eq</text>
<text font-size="24" x="581.8" y="472.4" textLength="81.3" lengthAdjust="spacingAndGlyphs">=2300K</text>
<path d="M673 466.6H726" stroke="#0000ff" stroke-width="1.3" fill="none"/>
<text font-size="24" x="546.3" y="493.1">T</text>
<text font-size="19.2" x="560.5" y="501">eq</text>
<text font-size="24" x="581.8" y="493.1" textLength="81.3" lengthAdjust="spacingAndGlyphs">=2000K</text>
<path d="M673 485.1H726" stroke="#00ffff" stroke-width="1.3" fill="none"/>
<text font-size="24" x="546.3" y="513.7">T</text>
<text font-size="19.2" x="560.5" y="521.6">eq</text>
<text font-size="24" x="581.8" y="513.7" textLength="81.3" lengthAdjust="spacingAndGlyphs">=1800K</text>
<path d="M673 506.3H726" stroke="#000000" stroke-width="1.3" fill="none"/>
<rect x="144.2" y="23.85" width="239.1" height="187.45" fill="#fff"/>
<g clip-path="url(#ci)" fill="none" stroke-width="1.0" stroke-linejoin="miter" stroke-miterlimit="3">
<path stroke="#ff0000" d="M144.2 165.7L144.2 165.7L144.4 165.7L144.6 101.3L144.6 91.8L144.7 165.6L144.8 105.7L145 165.7L145.2 92L145.3 95.6L145.4 165.6L145.6 165.7L146.3 97.7L146.6 165.5L146.9 165.6L147.8 165.4L148.6 165.4L148.8 95.6L149 165.3L149.2 97.7L149.4 165.4L149.8 165.3L150 97.6L150.2 165.2L150.2 100.7L150.3 165.3L151.4 165.1L151.8 165.1L152 91.5L152.3 91.8L152.5 165.1L152.6 164.9L153.8 164.8L155 164.7L156.2 164.6L156.2 164.6L156.3 94.6L156.6 96.5L156.7 164.6L157.4 164.5L158.5 164.4L159.7 164.3L160.9 164.2L162.1 164.1L163.3 164L163.9 164L164.1 104.3L164.4 163.9L164.5 110.5L164.5 163.9L164.7 96.1L164.7 164L164.9 163.9L165.1 98.9L165.3 163.9L165.3 98.1L165.7 163.8L166 101.8L166.4 163.9L166.9 163.7L168.1 163.6L169.3 163.5L169.6 163.5L169.8 141.9L170.1 144.1L170.3 163.5L170.5 163.4L170.7 163.4L170.9 98.5L171.2 102.5L171.4 163.4L171.7 163.3L172.7 163.2L172.9 163.2L172.9 97.5L173.2 101.1L173.3 163.2L174.1 163.1L174.1 163.1L174.2 98.7L174.5 102.9L174.7 163.1L175.3 163L176.5 162.9L177 162.9L177.2 103.6L177.5 109.8L177.7 162.9L177.7 162.8L178 162.8L178.2 94.3L178.5 96.6L178.7 162.8L178.9 162.7L178.9 162.7L179.5 146.8L180.1 162.6L180.5 149.5L180.8 162.5L181.2 162.7L181.2 97.3L181.3 162.5L181.8 101.1L182.1 162.5L182.5 162.4L183.7 162.3L184 162.3L184.2 144.2L184.5 162.3L184.6 146.7L184.6 112.3L184.8 162.3L184.8 162.2L184.9 117.8L185.1 162.3L186 162.1L186.6 162L187.1 97.4L187.2 162L187.8 101.4L188.3 162L188.4 161.9L189.6 161.8L190.8 161.7L191.8 161.6L192 161.6L192.2 96.6L192.6 161.5L192.9 100.3L193.2 92.9L193.2 161.5L193.4 161.6L194.2 95L194.4 161.4L194.7 161.4L194.8 161.5L194.9 96.7L195.1 100.5L195.3 161.4L195.5 161.3L195.6 161.3L195.8 97.6L196.4 101.9L196.7 161.3L196.8 161.3L198 161.2L199.2 161.1L200.4 161L201.6 160.9L202.8 160.8L203.5 160.8L203.7 93.6L203.9 96.2L204 160.7L204.1 160.8L205.2 160.6L206.2 160.5L206.4 160.5L206.4 98.9L206.6 160.5L206.7 99.7L206.8 103.9L207 105.1L207.1 160.5L207.2 160.5L207.6 160.4L208.8 160.3L210 160.2L210.4 160.2L210.6 89.1L210.9 89.6L211 160.2L211.1 160.1L211.3 160.1L211.6 97.4L211.8 160.1L212 101.9L212 96L212.2 160L212.2 160.1L212.3 98.2L212.3 160L212.4 99.8L212.6 160.1L212.6 103.1L212.7 160L212.7 160L212.7 160L212.9 95.5L212.9 90.9L213.2 99.1L213.3 92.4L213.4 160L213.5 160L213.6 160L214.7 159.9L215.9 159.8L216.3 159.8L216.5 150.6L216.8 151.3L217 159.8L217.1 159.7L217.9 159.7L218.1 101.4L218.3 159.6L218.5 107.7L218.7 159.7L219.5 159.5L220.7 159.4L221.9 159.3L222.9 159.2L223.1 88.3L223.1 159.2L223.3 88.6L223.5 159.2L223.9 159.2L224.1 95.5L224.3 159.2L224.5 96.6L224.7 159.2L225.5 159.1L225.5 159.1L225.9 92.1L226.5 94.4L226.7 159L226.9 159.1L227.1 159L227.1 158.9L227.3 94.4L227.5 146L227.7 97.8L227.9 158.9L227.9 159L228.1 158.9L228.3 146.6L228.3 99.1L228.6 104.6L228.7 158.9L228.8 158.9L229.1 158.8L229.6 158.8L229.7 88.9L230 89.6L230.1 158.8L230.3 158.7L231.5 158.6L232.7 158.6L233.9 158.5L235.1 158.4L236.3 158.3L236.5 158.3L236.7 90.3L237 91.8L237.2 158.3L237.4 158.2L238.6 158.1L239.8 158L241 158L242.2 157.9L243.1 157.8L243.3 98.2L243.4 157.8L243.7 103.5L243.9 157.8L244.6 157.7L245.8 157.6L247 157.5L247.8 157.5L247.9 99.2L248.2 105L248.2 157.4L248.3 157.5L249.4 157.4L249.5 157.4L249.8 157.3L249.9 93.2L250.4 92.3L250.6 157.3L250.7 96.4L251.2 157.4L251.4 95.1L251.8 157.2L252.1 157.3L252.3 157.1L253 96.7L253 157.1L253.7 157.1L254 90.6L254.1 101.5L254.2 157L254.4 92.6L254.6 157.1L254.7 157.1L255.1 157L255.2 90.7L255.4 156.9L255.5 92.8L255.6 157L256.6 156.8L257.3 156.8L257.5 88.5L257.8 89.6L257.8 156.7L257.9 156.8L259 156.7L260.2 156.6L260.4 156.6L260.7 97.4L260.8 156.6L261 97.5L261.1 102.7L261.3 156.6L261.3 156.5L261.3 102.8L261.4 156.5L261.6 156.6L261.7 93.3L262.4 96.8L262.6 156.4L262.8 156.5L263.7 156.3L263.9 156.3L264.1 89L264.5 90.5L264.8 156.3L264.9 156.2L266.1 156.1L266.3 156.1L266.7 100.1L267.3 137.7L267.3 106.7L267.6 152.8L267.8 156.1L267.8 135.9L268.1 154.6L268.3 137.8L268.5 133.1L268.8 153.2L269 135.6L269.2 149.3L269.5 137.2L269.7 139L270 150.5L270.2 129.4L270.4 147.6L270.7 136.2L270.9 129.2L271.2 144.2L271.4 136.4L271.6 147L271.9 131.9L272.1 134L272.4 147.4L272.6 129.6L272.8 148.2L273.1 129.5L273.3 124.1L273.6 142.9L273.8 123.3L274 141.1L274.3 125.4L274.3 131.1L274.5 123.9L274.7 144.8L274.8 95.9L275 129.8L275.2 136.6L275.5 131.1L275.7 101L275.7 127.4L275.9 132.1L276.2 125.4L276.2 122.2L276.2 131.1L276.2 124L276.4 145.4L276.4 95.1L276.7 122.2L276.8 99.8L276.9 117.4L276.9 91.6L277 122.2L277.1 137.1L277.4 129.5L277.6 137.7L277.9 124L278.1 94.7L278.1 123.2L278.3 139.7L278.6 124.7L278.7 124L278.8 141.8L279.1 124L279.3 124.3L279.5 143L279.8 120.6L280 132.3L280.2 129.7L280.5 117.7L280.7 144.1L281 129.1L281.2 140.9L281.4 122.2L281.7 124.5L281.9 144.4L282.2 124.8L282.4 143.1L282.6 114.8L282.9 125.7L283.1 145.4L283.4 129.9L283.6 145.4L283.8 126.9L284.1 122.6L284.3 142.1L284.6 128.8L284.8 137L285 119.1L285.3 123.5L285.5 147.3L285.7 122.3L286 136.6L286.2 125.1L286.5 122L286.7 137.3L286.9 127.3L287.2 139L287.4 123.5L287.6 123.2L287.7 123.1L287.9 145.1L288 90.7L288.1 120.3L288.4 135.8L288.6 93.8L288.6 123.2L288.9 123.6L288.9 123.2L289.1 147.6L289.3 119.1L289.6 139.8L289.8 128.8L290.1 124.2L290.3 138.5L290.5 115.1L290.8 145.3L291 119.9L291.2 116.5L291.5 140.9L291.7 124.6L291.7 125.7L291.8 95.6L292 140.2L292.1 101.2L292.2 124.6L292.2 124.6L292.4 121.1L292.7 136.4L292.9 128.7L293 125.6L293.2 141.1L293.2 86.8L293.4 125.6L293.5 119.8L293.6 88.2L293.6 122.8L293.8 94.4L293.8 125.6L293.9 138.8L294.1 120.7L294.1 99.6L294.4 143L294.4 119.8L294.6 119.8L294.8 120.9L295.1 144.1L295.3 123.8L295.6 136.5L295.8 122.1L296 128.9L296.3 136.1L296.5 124.1L296.7 134.1L297 120.5L297.2 127.4L297.5 141.8L297.7 121.4L297.9 142.7L298.2 121.9L298.4 123.9L298.7 143.5L298.9 125.8L299.1 144.9L299.4 121.9L299.6 122.5L299.9 140.4L300.1 124.4L300.3 123.1L300.3 137.5L300.5 96.1L300.6 123.1L300.8 124.1L300.9 102.3L301 144.5L301.1 123.1L301.3 129.3L301.5 136.2L301.8 129L302 126.9L302.2 141L302.5 126.9L302.7 137.1L303 124.2L303 123.9L303.1 95L303.2 121.9L303.4 137.4L303.5 100.8L303.6 124.2L303.7 125.7L303.9 139.5L304.2 124.2L304.4 129.5L304.6 139L304.9 122.3L305.1 136.7L305.4 122.5L305.6 126.9L305.8 144L306.1 121.9L306.3 147L306.5 126.8L306.8 130.2L307 141.5L307.3 126.4L307.5 139.6L307.7 124.3L308 126.1L308.2 144.1L308.5 131.3L308.7 144.2L308.9 131.7L309.2 128.5L309.4 126.5L309.4 140L309.6 122.8L309.7 129.9L309.8 127.1L309.9 140.6L310 126.5L310.1 126.5L310.4 126L310.6 146.8L310.9 129.7L311.1 138.4L311.3 127.5L311.6 130.6L311.8 136.2L312 126.8L312.3 137.1L312.5 131L312.8 130.5L313 140.8L313.2 124.4L313.5 139.7L313.7 126.7L314 132.7L314.2 146.1L314.4 131.2L314.7 138.8L314.9 134.3L315.2 132.1L315.4 139L315.6 124.9L315.9 143.2L316.1 128.6L316.4 130.6L316.6 142.1L316.8 125.9L317.1 143.7L317.3 133.4L317.5 130.9L317.8 139.6L318 130.3L318.3 147.1L318.5 125.3L318.7 133L319 138.4L319.2 135.7L319.5 145.2L319.7 128.9L319.9 136.7L320.1 136L320.2 145.2L320.3 89.3L320.4 130.5L320.6 93.1L320.7 143.6L320.8 136L320.9 136L321.1 131.1L321.4 145.5L321.6 130.6L321.9 142.4L322.1 128.6L322.3 131.6L322.6 139.7L322.8 131.5L323 146.6L323.2 133.8L323.3 132.6L323.5 130L323.8 145.2L323.9 91L324 131.6L324.2 143.5L324.5 133.8L324.7 136.2L325 95.6L325 144.1L325.2 129.6L325.4 142.1L325.6 133.8L325.7 131.2L325.9 133.3L326.2 142.6L326.4 133.8L326.6 143.4L326.9 131.1L327.1 133.9L327.4 142.2L327.6 133.8L327.8 139.9L328.1 131.2L328.3 134.5L328.5 140.6L328.8 133.1L329 144.4L329.3 132.9L329.5 133.4L329.7 141.2L330 132L330.2 147.5L330.5 133.7L330.7 134L330.9 142.8L331.2 133.7L331.4 143.8L331.7 134.6L331.9 135.3L332.1 143.3L332.4 137.5L332.6 142.7L332.8 136.6L333.1 133.7L333.3 141.3L333.6 135.8L333.8 142.3L334 136.5L334.3 137.1L334.5 143.3L334.8 135.2L335 141.8L335.2 136.5L335.5 133.4L335.7 142.8L336 132.6L336.2 143.2L336.4 132.7L336.7 136.3L336.9 139L336.9 142.9L337.2 134.7L337.4 144.9L337.5 90.7L337.6 135.3L337.9 135.8L338.1 144.1L338.3 137.5L338.5 95.7L338.6 142.7L338.8 139L339.1 137.6L339.2 139L339.3 144.3L339.5 133.7L339.8 145.5L340 134.6L340.3 135.4L340.5 145.9L340.7 136.2L341 143.8L341.2 138.4L341.4 139.2L341.5 138L341.6 88.5L341.7 145L341.9 92.5L341.9 135.2L342.1 139.2L342.2 142.8L342.4 139.2L342.7 136.9L342.9 144.1L343.1 136.7L343.4 144.2L343.6 138.3L343.8 139L344.1 146.3L344.3 137.7L344.6 141.6L344.8 136.1L344.9 135.8L345 139.1L345.1 90.7L345.3 143.6L345.4 95.9L345.5 138.9L345.5 135.8L345.8 145.5L346 135.8L346.2 139.5L346.5 144L346.7 136.5L346.7 137.3L347 144L347.2 138L347.3 89.6L347.4 139.8L347.6 137.4L347.7 142.8L347.9 138.7L348.2 143.7L348.3 94.3L348.3 83.9L348.4 136.5L348.6 140.3L348.9 136.5L348.9 144.3L348.9 137.4L349.1 140.4L349.1 82.1L349.3 85.8L349.3 145.2L349.4 82.9L349.6 137.4L349.6 137.4L349.8 139.9L349.9 137.4L350.1 144.6L350.3 138.8L350.5 143.5L350.8 138.8L351 138.4L351.3 143.9L351.5 140.4L351.7 144.3L352 139.8L352.2 139.6L352.5 145.7L352.7 140.3L352.9 144.3L353.2 140.7L353.4 142L353.7 145.5L353.9 139.2L354.1 143.7L354.4 140.2L354.6 140L354.8 145.5L355.1 140L355.3 144.3L355.6 140.7L355.8 141.8L356 144.6L356.3 140.8L356.5 144L356.8 142.3L357 139.5L357.2 145.3L357.5 140.8L357.7 145.5L358 141.8L358.2 140L358.4 144.9L358.7 139.2L358.9 144.5L359.2 141.2L359.4 141.2L359.6 145.4L359.9 142.4L360.1 145L360.3 138.9L360.6 139.5L360.8 146.2L361.1 142.3L361.3 146.6L361.5 142.5L361.8 141.4L362 144.7L362.3 139.7L362.5 145.7L362.7 141.4L363 140.8L363.2 145.2L363.5 142.1L363.7 144.7L363.9 142L364.2 142.3L364.4 145.2L364.7 142.2L364.9 146.4L365.1 141.5L365.4 140.8L365.6 146.3L365.8 141.9L366.1 146.7L366.3 143.1L366.6 143.1L366.6 143.7L366.8 145.9L366.8 91.6L367 142.1L367.2 97.8L367.3 145.8L367.4 143.7L367.5 143.7L367.8 142.9L368 145.3L368.2 142.5L368.5 145.8L368.7 142.6L369 141.7L369.2 144.6L369.4 142.7L369.6 142.9L369.7 146L369.8 83.4L369.9 142.9L370.1 143.5L370.3 85.7L370.4 146.9L370.5 142.9L370.6 143.8L370.9 146.3L371.1 142.1L371.3 143.1L371.6 144.9L371.8 142.5L372.1 146.4L372.3 143.5L372.5 142.3L372.8 147.5L372.9 142.9L373 143.7L373 91.5L373.3 147L373.3 97.7L373.5 142.9L373.5 142.9L373.7 144.6L374 145.6L374.2 144.5L374.5 146.3L374.7 143.7L374.9 144L375.2 145.6L375.4 143.9L375.6 147.6L375.9 144.3L376.1 143.9L376.4 147.4L376.6 143.9L376.8 146.9L377.1 144.7L377.2 144.3L377.3 144.8L377.4 80L377.6 147.9L377.6 80.4L377.8 144.3L377.8 144.5L378 146.9L378.3 144.3L378.5 143.5L378.8 147.7L378.9 145.2L379 144.5L379.2 146.1L379.5 123.1L379.5 145.3L379.7 144.1L380 146.3L380.2 144.5L380.4 125.4L380.4 146.1L380.7 145.2L380.9 143.7L380.9 145.2L381.1 147.6L381.4 145.6L381.6 147.6L381.9 144.5L382.1 145.5L382.3 146.7L382.6 145.2L382.8 147.8L383.1 144.1L383.3 145.1L383.3 148L383.3 145L383.3 148.3L383.3 145.4"/>
<path stroke="#ff0000" stroke-width="1.2" d="M144.2 165.7L150.2 165.2L156.2 164.6L162.1 164.1L168.1 163.6L174.1 163.1L180.1 162.6L186 162.1L192 161.6L198 161.2L204 160.7L210 160.2L215.9 159.8L221.9 159.3L227.9 158.9L233.9 158.5L239.8 158L245.8 157.6L251.8 157.2L257.8 156.7L263.7 156.3"/>
<path stroke="#00ff00" d="M144.2 176.9L144.2 176.9L144.6 127.1L144.7 176.8L145.2 129.3L145.3 152.5L145.4 176.8L145.6 176.9L146.3 153.8L146.6 176.7L146.9 176.8L147.8 176.6L149 176.5L149.8 176.5L150 124.6L150.2 176.4L150.2 125.8L150.3 176.5L151.4 176.3L151.8 176.3L152 142.1L152.3 144.3L152.5 176.3L152.6 176.2L153.8 176.1L155 176L156.2 175.9L156.2 175.9L156.3 152.6L156.6 155.8L156.7 175.9L157.4 175.8L158.5 175.7L159.7 175.6L160.9 175.5L162.1 175.4L163.3 175.3L164.4 175.2L164.5 175.2L164.7 169.3L165.1 171.3L165.3 175.2L165.7 175.1L166.9 175L168.1 174.9L169.3 174.8L170.5 174.7L170.7 174.7L170.9 125.1L171.2 127.4L171.4 174.7L171.7 174.6L172.7 174.5L172.9 174.5L172.9 160.5L173.2 161.3L173.3 174.5L174.1 174.4L174.1 174.4L174.2 149.7L174.5 150.2L174.7 174.4L175.3 174.3L176.5 174.2L177.7 174.1L178 174.1L178.2 124.3L178.5 126L178.7 174.1L178.9 174L180.1 173.9L181.3 173.8L182.5 173.7L183.7 173.6L184.8 173.5L186 173.4L186.6 173.3L187.1 120.8L187.2 173.3L187.8 121.8L188.3 173.3L188.4 173.2L189.6 173.1L190.8 173L191.8 172.9L192 172.9L192.2 137.5L192.6 172.8L192.9 140.3L193.2 163.9L193.2 172.8L193.4 172.9L194.2 164.6L194.4 172.7L194.7 172.7L194.8 172.8L194.9 154.6L195.1 157.8L195.3 172.7L195.5 172.6L195.6 172.6L195.8 122.2L196.4 124.1L196.7 172.6L196.8 172.5L198 172.4L199.2 172.3L200.4 172.2L201.6 172.1L202.8 172L204 171.9L205.2 171.8L206.2 171.8L206.4 171.8L206.4 146.3L206.6 171.8L206.7 135.3L206.8 149.9L207 139.2L207.1 171.8L207.2 171.8L207.6 171.7L208.8 171.6L210 171.5L211.1 171.4L211.3 171.4L211.6 152.9L211.8 171.4L212 155.5L212 120.8L212.2 171.3L212.2 171.4L212.3 117.3L212.3 171.3L212.4 122.8L212.6 171.4L212.6 117.5L212.7 171.3L212.7 171.3L212.9 125.7L213.3 129.9L213.5 171.2L213.6 171.3L214.7 171.1L215.9 171L217.1 170.9L217.9 170.9L218.1 120.9L218.3 170.9L218.5 122.8L218.7 170.9L219.5 170.8L220.7 170.7L221.9 170.6L222.9 170.5L223.1 117.2L223.1 170.5L223.3 117.9L223.5 170.5L224.3 170.4L225.5 170.3L225.5 170.3L225.9 162.9L226.5 164.2L226.7 170.2L226.9 170.3L227.1 170.2L227.3 126.3L227.7 131.3L227.9 170.2L227.9 170.2L228.1 170.2L228.3 138.6L228.6 141.6L228.8 170.2L229.1 170.1L229.6 170.1L229.7 118.9L230 120.7L230.1 170.1L230.3 170L231.5 169.9L232.7 169.8L233.9 169.7L235.1 169.7L236.3 169.6L236.5 169.6L236.7 151.8L237 154.5L237.2 169.6L237.4 169.5L238.6 169.4L239.8 169.3L241 169.2L242.2 169.1L243.1 169.1L243.3 126.3L243.4 169.1L243.7 130L243.9 169.1L244.6 169L245.8 168.9L247 168.8L248.2 168.7L249.4 168.6L250.6 168.5L251.8 168.5L253 168.4L254.2 168.3L255.1 168.3L255.2 122L255.4 168.2L255.5 126.3L255.6 168.3L256.6 168.1L257.3 168.1L257.5 142L257.8 144.3L257.8 168L257.9 168.1L259 167.9L260.2 167.8L261.3 167.7L261.4 167.7L261.7 122.9L262.4 127.8L262.6 167.7L262.8 167.7L263.7 167.6L263.9 167.6L264.1 158.1L264.5 161.1L264.8 167.6L264.9 167.5L266.1 167.4L266.3 167.4L266.7 117.6L267.3 167.3L267.3 120.3L267.8 167.4L268.5 167.2L269.7 167.1L270.9 167L272.1 166.9L273.3 166.8L274.3 166.7L274.5 166.7L274.8 146.1L275.7 146.8L275.7 166.6L276.2 166.6L276.2 166.7L276.2 167.2L276.4 148.6L276.8 152.2L276.9 166.1L276.9 111.9L277 166.6L277.5 167.2L278.1 112.2L278.1 166.3L278.7 166.9L278.7 167.2L279.3 165.3L279.9 166.8L280.5 167L281.1 167.4L281.7 166.6L282.3 165L282.9 166.8L283.5 166.2L284.1 164.8L284.7 167.3L285.3 166.5L285.9 165.1L286.5 166.9L287.1 164.8L287.6 166.7L287.7 164.9L288 115.5L288.3 166.7L288.6 116.9L288.9 165.5L288.9 166.7L289.5 165.5L290.1 165.1L290.6 166.1L291.2 165.8L291.7 166.2L291.8 137.5L291.8 166.2L292.1 139.3L292.2 166.2L292.4 166L293 166.3L293 166.3L293.2 157.7L293.5 164.4L293.6 160.5L293.6 164.3L293.8 116.9L293.8 166.3L294.1 120.5L294.2 164.4L294.4 164.4L294.8 165.6L295.4 164.8L296 165.2L296.6 165.7L297.2 165.5L297.8 164L298.4 165.4L299 164.8L299.6 163.8L300.2 165.5L300.3 165.5L300.5 158L300.8 164.1L300.9 158.6L301.1 165.5L301.4 165.8L302 164.2L302.6 164L303 163.5L303.1 110.8L303.2 163.9L303.5 111.7L303.6 163.5L303.8 163.5L304.4 164.1L305 163.5L305.6 165.1L306.2 164.5L306.8 165.2L307.4 165.5L308 164.6L308.6 163.9L309.2 163.6L309.8 165.6L310.4 163.2L311 164.9L311.6 164.7L312.2 163.4L312.8 163.1L313.4 163.5L314 164.5L314.6 164.1L315.2 163.1L315.8 164.3L316.4 163.1L316.9 163.2L317.5 163.9L318.1 162.8L318.7 164.1L319.3 163.1L319.9 163.4L320.1 164.1L320.3 154.8L320.5 164.1L320.6 156.4L320.8 164.1L321.1 163.6L321.7 163.4L322.3 163.5L322.9 164.5L323.2 162.3L323.5 162.3L323.9 141.2L324.1 162.3L324.7 164.6L325 141.3L325.3 162.3L325.6 162.3L325.9 163.3L326.5 164.3L327.1 162.5L327.7 163.5L328.3 162.7L328.9 162.4L329.5 163.1L330.1 164.3L330.7 162.3L331.3 162.6L331.9 162L332.5 163.6L333.1 162.3L333.7 162.1L334.3 163.3L334.9 163.1L335.5 163.3L336.1 164.1L336.7 163.5L336.9 162.1L337.3 163.2L337.5 109L337.9 163.7L338.5 162.1L338.5 110.4L339.1 162.9L339.2 162.1L339.7 162.5L340.3 163.1L340.9 163L341.5 161.9L342.1 162.6L342.7 162.2L343.3 162.7L343.8 162.3L344.4 161.4L344.9 162.3L345 162.9L345.1 116.8L345.4 122.1L345.5 162.3L345.6 162.3L346.2 161.8L346.7 162.3L346.8 163.3L347.3 121.4L347.4 161.1L347.6 161.5L348 162.3L348.3 123.6L348.3 119.4L348.6 162.8L348.9 162.3L348.9 161.5L349.1 124.8L349.2 161.5L349.3 123.5L349.4 125.2L349.6 161.5L349.8 161.3L349.9 161.5L350.4 161.8L351 161L351.6 163.1L352.2 161.9L352.8 161.4L353.4 160.9L354 161.6L354.6 161.6L355.2 162.2L355.8 161.7L356.4 161.7L357 160.8L357.6 161L358.2 161.1L358.8 160.7L359.4 162.8L360 161L360.6 161.7L361.2 161L361.8 162.1L362.4 161.7L363 160.7L363.6 162.7L364.2 162L364.8 161.5L365.4 160.5L366 162L366.6 160.6L366.6 162L366.8 111.1L367.2 162L367.2 114.5L367.4 162L367.8 161.8L368.4 161.2L369 160.9L369.6 160.3L370.1 160.3L370.7 161.8L371.3 160.5L371.9 160.8L372.5 161.4L373.1 160.4L373.7 160.1L374.3 161.1L374.9 160L375.5 161.9L376.1 161.8L376.7 160.3L377.3 161.4L377.9 160.7L378.5 160.9L379.1 161.8L379.7 160.2L380.3 160.2L380.9 161.7L381.5 161.4L382.1 160L382.7 159.7L383.3 159.8L383.3 160.7"/>
<path stroke="#00ff00" stroke-width="1.2" d="M144.2 176.9L150.2 176.4L156.2 175.9L162.1 175.4L168.1 174.9L174.1 174.4L180.1 173.9L186 173.4L192 172.9L198 172.4L204 171.9L210 171.5L215.9 171L221.9 170.6L227.9 170.2L233.9 169.7L239.8 169.3L245.8 168.9L251.8 168.5L257.8 168L263.7 167.6L269.7 167.1L275.7 166.6L281.7 166.2L287.7 165.8L293.6 165.4L299.6 165L305.6 164.6L311.6 164.2L317.5 163.8L323.5 163.5L329.5 163.2L335.5 162.9L341.5 162.5L347.4 162.2L353.4 162L359.4 161.7L365.4 161.4L371.3 161.2L377.3 160.9L383.3 160.7"/>
<path stroke="#0000ff" d="M144.2 184.4L144.2 184.4L144.6 137L145.2 137.8L145.4 184.3L145.6 184.4L146.6 184.2L147.8 184.1L149 184L149.8 184L150 143.9L150.2 183.9L150.2 147.7L150.3 184L151.4 183.8L151.8 183.8L152 171.5L152.3 172.9L152.5 183.8L152.6 183.7L153.8 183.6L155 183.5L156.2 183.4L157.4 183.3L158.5 183.2L159.7 183.1L160.9 183L162.1 182.9L163.3 182.8L164.5 182.7L165.7 182.6L166.9 182.5L168.1 182.4L169.3 182.3L170.5 182.2L170.7 182.2L170.9 140.1L171.2 142.7L171.4 182.2L171.7 182.1L172.9 182L174.1 181.9L175.3 181.8L176.5 181.7L177.7 181.6L178 181.6L178.2 154.4L178.5 155.8L178.7 181.6L178.9 181.5L180.1 181.4L181.3 181.3L182.5 181.2L183.7 181.1L184.8 181L186 180.9L186.6 180.8L187.1 134.1L187.2 180.8L187.8 134.9L188.3 180.8L188.4 180.7L189.6 180.6L190.8 180.5L191.8 180.4L192 180.4L192.2 165.8L192.9 167.1L193.2 180.3L193.4 180.4L194.4 180.2L195.5 180.1L195.6 180.1L195.8 140.2L196.4 143.3L196.7 180.1L196.8 180L198 179.9L199.2 179.8L200.4 179.7L201.6 179.6L202.8 179.5L204 179.4L205.2 179.3L206.2 179.2L206.4 179.2L206.4 173.7L206.6 179.2L206.7 162.2L206.8 175L207 164.2L207.1 179.2L207.2 179.2L207.6 179.1L208.8 179L210 178.9L211.1 178.9L211.8 178.9L212 152.9L212.2 178.8L212.3 140.1L212.3 178.8L212.4 155.9L212.6 178.9L212.6 144.3L212.7 178.8L212.7 178.8L212.9 134.4L213.3 136.1L213.5 178.7L213.6 178.8L214.7 178.6L215.9 178.5L217.1 178.4L217.9 178.4L218.1 151.1L218.3 178.3L218.5 152.6L218.7 178.4L219.5 178.2L220.7 178.1L221.9 178L222.9 177.9L223.1 146.9L223.1 177.9L223.3 150.3L223.5 177.9L224.3 177.8L225.5 177.7L226.7 177.6L227.1 177.6L227.3 141.3L227.7 142.5L227.9 177.5L227.9 177.6L228.1 177.5L228.3 167L228.6 168.5L228.8 177.5L229.1 177.4L229.6 177.4L229.7 143.2L230 143.8L230.1 177.4L230.3 177.3L231.5 177.2L232.7 177.1L233.9 177L235.1 176.9L236.3 176.8L237.4 176.7L238.6 176.6L239.8 176.5L241 176.4L242.2 176.3L243.1 176.3L243.3 151L243.4 176.3L243.7 151.3L243.9 176.3L244.6 176.2L245.8 176.1L247 176L248.2 175.9L249.4 175.8L250.6 175.7L251.8 175.6L253 175.5L254.2 175.4L255.1 175.4L255.2 130.1L255.4 175.3L255.5 131.5L255.6 175.4L256.6 175.3L257.8 175.2L259 175.1L260.2 175L261.3 174.9L261.4 174.9L261.7 135.4L262.4 139.4L262.6 174.8L262.8 174.9L263.7 174.7L264.9 174.7L266.1 174.6L266.3 174.6L266.7 132.7L267.3 174.5L267.3 135.7L267.8 174.6L268.5 174.4L269.7 174.3L270.9 174.3L272.1 174.2L273.3 174.1L274.5 174L275.7 173.9L276.2 173.9L276.9 173.9L276.9 130L278.1 132L278.1 173.8L278.7 173.9L279.3 173.7L280.5 173.6L281.7 173.6L282.9 173.5L284.1 173.4L285.3 173.3L286.5 173.2L287.6 173.2L287.7 173.2L288 147.4L288.6 149L288.9 173.1L288.9 173.2L290.1 173L291.2 172.9L291.7 172.9L291.8 168.5L292.1 169.8L292.2 172.9L292.4 172.9L293.5 172.8L293.6 172.8L293.8 129.6L294.1 131.9L294.4 172.8L294.8 172.7L296 172.7L297.2 172.6L298.4 172.5L299.6 172.4L300.8 172.4L302 172.3L303 172.2L303.1 124.9L303.2 172.2L303.5 125.3L303.6 172.2L304.4 172.1L305.6 172.1L306.8 172L308 171.9L309.2 171.9L310.4 171.8L311.6 171.7L312.8 171.6L314 171.6L315.2 171.5L316.4 171.4L317.5 171.4L318.7 171.3L319.9 171.2L321.1 171.1L322.3 171.1L323.5 171L324.7 170.9L325.9 170.9L327.1 170.8L328.3 170.7L329.5 170.6L330.7 170.6L331.9 170.5L333.1 170.4L334.3 170.4L335.5 170.3L336.7 170.2L336.9 170.1L337.5 131.2L337.9 170.1L338.5 135.9L339.1 170.1L339.2 170.1L340.3 170L341.5 169.9L342.7 169.9L343.8 169.8L344.9 169.7L345 169.7L345.1 138.1L345.4 141.5L345.5 169.7L346.2 169.7L346.7 169.6L347.3 153.5L347.4 169.6L347.6 169.5L348.3 156L348.3 147.8L348.6 169.5L348.9 169.6L348.9 169.5L349.1 159.1L349.3 150L349.4 161.3L349.6 169.5L349.8 169.4L349.9 169.5L351 169.4L352.2 169.3L353.4 169.2L354.6 169.2L355.8 169.1L357 169L358.2 169L359.4 168.9L360.6 168.8L361.8 168.8L363 168.7L364.2 168.6L365.4 168.6L366.6 168.5L366.6 168.5L366.8 123.7L367.2 125.7L367.4 168.5L367.8 168.4L369 168.4L370.1 168.3L371.3 168.2L372.5 168.2L373.7 168.1L374.9 168L376.1 168L377.3 167.9L378.5 167.8L379.7 167.8L380.9 167.7L382.1 167.6L383.3 167.6"/>
<path stroke="#0000ff" stroke-width="1.2" d="M144.2 184.4L150.2 183.9L156.2 183.4L162.1 182.9L168.1 182.4L174.1 181.9L180.1 181.4L186 180.9L192 180.4L198 179.9L204 179.4L210 178.9L215.9 178.5L221.9 178L227.9 177.5L233.9 177L239.8 176.5L245.8 176.1L251.8 175.6L257.8 175.2L263.7 174.7L269.7 174.3L275.7 173.9L281.7 173.6L287.7 173.2L293.6 172.8L299.6 172.4L305.6 172.1L311.6 171.7L317.5 171.4L323.5 171L329.5 170.6L335.5 170.3L341.5 169.9L347.4 169.6L353.4 169.2L359.4 168.9L365.4 168.6L371.3 168.2L377.3 167.9L383.3 167.6"/>
<path stroke="#00ffff" d="M144.2 193.2L144.2 193.2L144.6 187.9L145.2 188.9L145.4 193.1L145.6 193.2L146.6 193L147.8 192.9L149 192.8L149.8 192.8L150 179.1L150.2 192.7L150.2 179.6L150.3 192.8L151.4 192.6L152.6 192.5L153.8 192.5L155 192.4L156.2 192.3L157.4 192.2L158.5 192.1L159.7 192L160.9 191.9L162.1 191.8L163.3 191.7L164.5 191.7L165.7 191.6L166.9 191.5L168.1 191.4L169.3 191.3L170.5 191.2L171.7 191.1L172.9 191L174.1 191L175.3 190.9L176.5 190.8L177.7 190.7L178.9 190.6L180.1 190.5L181.3 190.4L182.5 190.3L183.7 190.3L184.8 190.2L186 190.1L186.6 190L187.1 182L187.2 190L187.8 183L188.3 190L188.4 189.9L189.6 189.8L190.8 189.7L192 189.7L193.2 189.6L194.4 189.5L195.6 189.4L196.8 189.3L198 189.2L199.2 189.1L200.4 189.1L201.6 189L202.8 188.9L204 188.8L205.2 188.7L206.4 188.6L207.6 188.6L208.8 188.5L210 188.4L211.1 188.3L212.2 188.2L212.3 183.8L212.3 188.2L212.6 185.2L212.7 188.2L212.7 188.2L212.9 181.3L213.3 182.4L213.5 188.1L213.6 188.2L214.7 188L215.9 188L217.1 187.9L218.3 187.8L219.5 187.7L220.7 187.6L221.9 187.5L223.1 187.5L224.3 187.4L225.5 187.3L226.7 187.2L227.9 187.1L229.1 187L230.3 187L231.5 186.9L232.7 186.8L233.9 186.7L235.1 186.6L236.3 186.6L237.4 186.5L238.6 186.4L239.8 186.3L241 186.2L242.2 186.1L243.4 186.1L244.6 186L245.8 185.9L247 185.8L248.2 185.7L249.4 185.7L250.6 185.6L251.8 185.5L253 185.4L254.2 185.4L255.1 185.4L255.2 180.1L255.4 185.3L255.5 181.4L255.6 185.4L256.6 185.2L257.8 185.1L259 185L260.2 185L261.3 184.9L261.4 184.9L261.7 166.4L262.4 166.7L262.6 184.8L262.8 184.9L263.7 184.7L264.9 184.7L266.1 184.6L266.3 184.6L266.7 170L267.3 184.5L267.3 170.6L267.8 184.6L268.5 184.4L269.7 184.4L270.9 184.3L272.1 184.2L273.3 184.2L274.5 184.1L275.7 184L276.2 183.9L276.9 183.9L276.9 172.3L278.1 173.1L278.1 183.9L278.7 183.9L279.3 183.8L280.5 183.7L281.7 183.7L282.9 183.6L284.1 183.5L285.3 183.5L286.5 183.4L287.7 183.3L288.9 183.2L290.1 183.2L291.2 183.1L292.4 183L293.6 183L294.8 182.9L296 182.8L297.2 182.8L298.4 182.7L299.6 182.6L300.8 182.6L302 182.5L303 182.4L303.1 178.6L303.2 182.4L303.5 180.5L303.6 182.4L304.4 182.4L305.6 182.3L306.8 182.2L308 182.2L309.2 182.1L310.4 182L311.6 182L312.8 181.9L314 181.8L315.2 181.8L316.4 181.7L317.5 181.6L318.7 181.6L319.9 181.5L321.1 181.4L322.3 181.4L323.5 181.3L324.7 181.2L325.9 181.2L327.1 181.1L328.3 181L329.5 181L330.7 180.9L331.9 180.9L333.1 180.8L334.3 180.7L335.5 180.7L336.7 180.6L336.9 180.5L337.5 162.5L337.9 180.5L338.5 162.9L339.1 180.5L339.2 180.5L340.3 180.4L341.5 180.3L342.7 180.3L343.8 180.2L345 180.1L346.2 180.1L347.4 180L348.6 180L349.8 179.9L351 179.8L352.2 179.8L353.4 179.7L354.6 179.6L355.8 179.6L357 179.5L358.2 179.5L359.4 179.4L360.6 179.3L361.8 179.3L363 179.2L364.2 179.2L365.4 179.1L366.6 179L366.6 179L366.8 158.8L367.2 159.1L367.4 179L367.8 179L369 178.9L370.1 178.8L371.3 178.8L372.5 178.7L373.7 178.7L374.9 178.6L376.1 178.5L377.3 178.5L378.5 178.4L379.7 178.4L380.9 178.3L382.1 178.2L383.3 178.2"/>
<path stroke="#00ffff" stroke-width="1.2" d="M144.2 193.2L150.2 192.7L156.2 192.3L162.1 191.8L168.1 191.4L174.1 191L180.1 190.5L186 190.1L192 189.7L198 189.2L204 188.8L210 188.4L215.9 188L221.9 187.5L227.9 187.1L233.9 186.7L239.8 186.3L245.8 185.9L251.8 185.5L257.8 185.1L263.7 184.7L269.7 184.4L275.7 184L281.7 183.7L287.7 183.3L293.6 183L299.6 182.6L305.6 182.3L311.6 182L317.5 181.6L323.5 181.3L329.5 181L335.5 180.7L341.5 180.3L347.4 180L353.4 179.7L359.4 179.4L365.4 179.1L371.3 178.8L377.3 178.5L383.3 178.2"/>
<path stroke="#000000" d="M144.2 198.8L145.4 198.7L146.6 198.6L147.8 198.6L149 198.5L150.2 198.4L151.4 198.3L152.6 198.2L153.8 198.2L155 198.1L156.2 198L157.4 197.9L158.5 197.9L159.7 197.8L160.9 197.7L162.1 197.6L163.3 197.5L164.5 197.5L165.7 197.4L166.9 197.3L168.1 197.2L169.3 197.1L170.5 197.1L171.7 197L172.9 196.9L174.1 196.8L175.3 196.8L176.5 196.7L177.7 196.6L178.9 196.5L180.1 196.4L181.3 196.4L182.5 196.3L183.7 196.2L184.8 196.1L186 196.1L187.2 196L188.4 195.9L189.6 195.8L190.8 195.8L192 195.7L193.2 195.6L194.4 195.5L195.6 195.5L196.8 195.4L198 195.3L199.2 195.2L200.4 195.2L201.6 195.1L202.8 195L204 194.9L205.2 194.9L206.4 194.8L207.6 194.7L208.8 194.6L210 194.6L211.1 194.5L212.3 194.4L213.5 194.3L214.7 194.3L215.9 194.2L217.1 194.1L218.3 194L219.5 194L220.7 193.9L221.9 193.8L223.1 193.7L224.3 193.7L225.5 193.6L226.7 193.5L227.9 193.4L229.1 193.4L230.3 193.3L231.5 193.2L232.7 193.2L233.9 193.1L235.1 193L236.3 192.9L237.4 192.9L238.6 192.8L239.8 192.7L241 192.6L242.2 192.6L243.4 192.5L244.6 192.4L245.8 192.4L247 192.3L248.2 192.2L249.4 192.1L250.6 192.1L251.8 192L253 191.9L254.2 191.9L255.4 191.8L256.6 191.7L257.8 191.7L259 191.6L260.2 191.5L261.4 191.4L262.6 191.4L263.7 191.3L264.9 191.2L266.1 191.2L267.3 191.1L268.5 191L269.7 191L270.9 190.9L272.1 190.8L273.3 190.8L274.5 190.7L275.7 190.6L276.9 190.5L278.1 190.5L279.3 190.4L280.5 190.3L281.7 190.3L282.9 190.2L284.1 190.1L285.3 190.1L286.5 190L287.7 189.9L288.9 189.9L290.1 189.8L291.2 189.7L292.4 189.7L293.6 189.6L294.8 189.5L296 189.5L297.2 189.4L298.4 189.3L299.6 189.3L300.8 189.2L302 189.1L303.2 189.1L304.4 189L305.6 188.9L306.8 188.9L308 188.8L309.2 188.8L310.4 188.7L311.6 188.6L312.8 188.6L314 188.5L315.2 188.4L316.4 188.4L317.5 188.3L318.7 188.2L319.9 188.2L321.1 188.1L322.3 188.1L323.5 188L324.7 187.9L325.9 187.9L327.1 187.8L328.3 187.7L329.5 187.7L330.7 187.6L331.9 187.6L333.1 187.5L334.3 187.4L335.5 187.4L336.7 187.3L337.9 187.3L339.1 187.2L340.3 187.1L341.5 187.1L342.7 187L343.8 187L345 186.9L346.2 186.8L347.4 186.8L348.6 186.7L349.8 186.7L351 186.6L352.2 186.5L353.4 186.5L354.6 186.4L355.8 186.4L357 186.3L358.2 186.2L359.4 186.2L360.6 186.1L361.8 186.1L363 186L364.2 186L365.4 185.9L366.6 185.8L367.8 185.8L369 185.7L370.1 185.7L371.3 185.6L372.5 185.6L373.7 185.5L374.9 185.4L376.1 185.4L377.3 185.3L378.5 185.3L379.7 185.2L380.9 185.2L382.1 185.1L383.3 185.1"/>
<path stroke="#000000" stroke-width="1.3" d="M144.2 198.8L150.2 198.4L156.2 198L162.1 197.6L168.1 197.2L174.1 196.8L180.1 196.4L186 196.1L192 195.7L198 195.3L204 194.9L210 194.6L215.9 194.2L221.9 193.8L227.9 193.4L233.9 193.1L239.8 192.7L245.8 192.4L251.8 192L257.8 191.7L263.7 191.3L269.7 191L275.7 190.6L281.7 190.3L287.7 189.9L293.6 189.6L299.6 189.3L305.6 188.9L311.6 188.6L317.5 188.3L323.5 188L329.5 187.7L335.5 187.4L341.5 187.1L347.4 186.8L353.4 186.5L359.4 186.2L365.4 185.9L371.3 185.6L377.3 185.3L383.3 185.1"/>
</g>
<path d="M144.2 23.85H383.3V211.3H144.2ZM203.97 211.3v-2.6M203.97 23.85v2.6M263.75 211.3v-2.6M263.75 23.85v2.6M323.52 211.3v-2.6M323.52 23.85v2.6M144.2 180.06h2.6M144.2 148.82h2.6M144.2 117.58h2.6M144.2 86.33h2.6M144.2 55.09h2.6" fill="none" stroke="#000" stroke-width="1.3"/>
<g font-size="15">
<text x="140.6" y="216.7" text-anchor="end">0</text>
<text x="140.6" y="154.2" text-anchor="end">1</text>
<text x="140.6" y="91.7" text-anchor="end">2</text>
<text x="140.6" y="29.2" text-anchor="end">3</text>
<text x="144.1" y="227.4" text-anchor="middle">3</text>
<text x="263.6" y="227.4" text-anchor="middle">4</text>
<text x="383.2" y="227.4" text-anchor="middle">5</text>
<text x="204.7" y="241.6">Wavelength [<tspan font-style="italic">µ</tspan><tspan dx="-0.9"> m]</tspan></text>
<text transform="translate(122.6 229.6) rotate(-90)">Secondary eclipse depth [10<tspan font-size="13.5" dy="-6.5">-4</tspan><tspan dy="6.5" dx="0.6">]</tspan></text>
</g>
</svg>
</body></html>
